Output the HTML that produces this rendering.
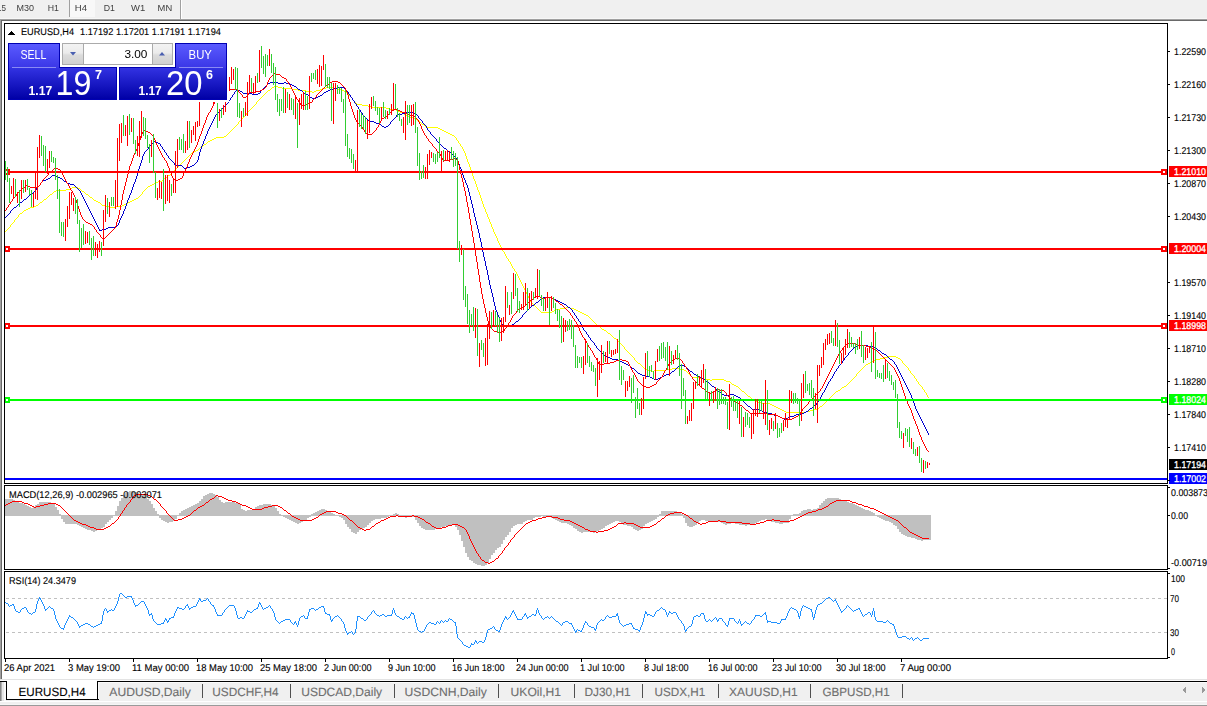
<!DOCTYPE html>
<html><head><meta charset="utf-8"><title>EURUSD,H4</title>
<style>
html,body{margin:0;padding:0;background:#fff;}
body{width:1207px;height:706px;overflow:hidden;position:relative;font-family:"Liberation Sans", sans-serif;}
.abs{position:absolute;}
svg{position:absolute;left:0;top:0;}
svg text{font-family:"Liberation Sans", sans-serif;}
svg.gp text{text-rendering:geometricPrecision;}
.panel{position:absolute;color:#fff;}
</style></head><body>
<!-- toolbar -->
<div class="abs" style="left:0;top:0;width:1207px;height:18px;background:#f0f0f0"></div>
<div class="abs" style="left:0;top:18px;width:1207px;height:1px;background:#f7f7f7"></div>
<div class="abs" style="left:0;top:19px;width:1207px;height:1px;background:#a0a0a0"></div>
<div class="abs" style="left:0;top:20px;width:1207px;height:1px;background:#696969"></div>
<div class="abs" style="left:70px;top:0;width:25px;height:17px;background:#f8f8f8"></div>
<div class="abs" style="left:69px;top:0;width:1px;height:17px;background:#a0a0a0"></div>
<div class="abs" style="left:180px;top:0;width:1px;height:19px;background:#a0a0a0"></div>
<div class="abs" style="left:181px;top:0;width:1px;height:19px;background:#fff"></div>
<!-- left edge -->
<div class="abs" style="left:0;top:19px;width:1px;height:660px;background:#a0a0a0"></div>
<div class="abs" style="left:1px;top:20px;width:1px;height:659px;background:#696969"></div>
<!-- bottom tab strip -->
<div class="abs" style="left:0;top:679px;width:1207px;height:1px;background:#e3e3e3"></div>
<div class="abs" style="left:0;top:680px;width:1207px;height:1px;background:#fafafa"></div>
<div class="abs" style="left:0;top:681px;width:1207px;height:24px;background:#f0f0f0"></div>
<div class="abs" style="left:0;top:681px;width:1207px;height:1px;background:#000"></div>
<div class="abs" style="left:0;top:701px;width:1207px;height:1px;background:#fefefe"></div>
<div class="abs" style="left:0;top:704px;width:1207px;height:1px;background:#f5f5f5"></div>
<div class="abs" style="left:0;top:705px;width:1207px;height:1px;background:#9a9a9a"></div>
<div class="abs" style="left:0;top:682px;width:1px;height:19px;background:#888"></div>
<div class="abs" style="left:1px;top:682px;width:1px;height:19px;background:#b0b0b0"></div>
<div class="abs" style="left:2px;top:682px;width:2px;height:19px;background:#e6e6e6"></div>
<div class="abs" style="left:4px;top:682px;width:2px;height:19px;background:#fafafa"></div>
<!-- active tab -->
<div class="abs" style="left:98px;top:682px;width:1109px;height:1px;background:#fbfbfb"></div>
<div class="abs" style="left:98px;top:682px;width:1px;height:17px;background:#fbfbfb"></div>
<div class="abs" style="left:7px;top:680px;width:90px;height:19px;background:#fff"></div>
<div class="abs" style="left:6px;top:681px;width:1px;height:19px;background:#000"></div>
<div class="abs" style="left:97px;top:681px;width:1px;height:19px;background:#000"></div>
<div class="abs" style="left:6px;top:699px;width:93px;height:1px;background:#000"></div>
<svg class="gp" width="1207" height="706" viewBox="0 0 1207 706" shape-rendering="crispEdges">
<defs><clipPath id="cm"><rect x="5" y="24" width="1162" height="459"/></clipPath></defs>
<g clip-path="url(#cm)">
<path d="M243 117h1v1h-1zM410 117h4v1h-4zM255 104h1v1h-1zM357 104h5v1h-5zM740 389h1v1h-1zM840 389h1v1h-1zM923 389h1v1h-1zM538 309h1v1h-1zM556 309h4v1h-4zM574 309h2v1h-2zM189 155h1v1h-1zM465 155h1v1h-1zM232 129h1v1h-1zM440 129h2v1h-2zM710 380h2v1h-2zM724 380h2v1h-2zM851 380h1v1h-1zM916 380h1v1h-1zM758 402h4v1h-4zM825 402h1v1h-1zM648 370h4v1h-4zM654 370h12v1h-12zM684 370h2v1h-2zM860 370h1v1h-1zM909 370h1v1h-1zM786 412h20v1h-20zM11 224h1v1h-1zM491 224h1v1h-1zM252 107h1v1h-1zM372 107h14v1h-14zM186 158h1v1h-1zM466 158h1v1h-1zM643 367h1v1h-1zM863 367h1v1h-1zM907 367h1v1h-1zM162 180h1v1h-1zM474 180h1v1h-1zM272 87h2v1h-2zM278 87h4v1h-4zM326 87h8v1h-8zM704 379h6v1h-6zM712 379h12v1h-12zM852 379h1v1h-1zM916 379h1v1h-1zM66 189h4v1h-4zM80 189h1v1h-1zM145 189h1v1h-1zM477 189h1v1h-1zM53 192h1v1h-1zM84 192h1v1h-1zM142 192h1v1h-1zM479 192h1v1h-1zM251 108h1v1h-1zM386 108h4v1h-4zM266 92h1v1h-1zM312 92h2v1h-2zM346 92h1v1h-1zM185 159h1v1h-1zM467 159h1v1h-1zM540 311h1v1h-1zM552 311h2v1h-2zM578 311h2v1h-2zM234 127h1v1h-1zM426 127h12v1h-12zM228 133h1v1h-1zM448 133h2v1h-2zM48 196h1v1h-1zM89 196h1v1h-1zM139 196h1v1h-1zM480 196h1v1h-1zM16 218h1v1h-1zM488 218h1v1h-1zM177 167h1v1h-1zM470 167h1v1h-1zM271 88h1v1h-1zM282 88h10v1h-10zM322 88h4v1h-4zM334 88h4v1h-4zM634 359h1v1h-1zM876 359h4v1h-4zM900 359h1v1h-1zM36 205h2v1h-2zM102 205h4v1h-4zM122 205h2v1h-2zM483 205h1v1h-1zM5 231h1v1h-1zM493 231h1v1h-1zM270 89h1v1h-1zM292 89h6v1h-6zM320 89h2v1h-2zM338 89h4v1h-4zM754 400h2v1h-2zM827 400h1v1h-1zM158 181h4v1h-4zM475 181h1v1h-1zM530 300h1v1h-1zM646 369h2v1h-2zM666 369h6v1h-6zM680 369h4v1h-4zM861 369h1v1h-1zM908 369h1v1h-1zM175 169h1v1h-1zM470 169h1v1h-1zM741 390h1v1h-1zM838 390h2v1h-2zM924 390h1v1h-1zM689 374h1v1h-1zM856 374h1v1h-1zM912 374h1v1h-1zM30 207h4v1h-4zM110 207h6v1h-6zM484 207h1v1h-1zM527 294h1v1h-1zM72 187h6v1h-6zM147 187h1v1h-1zM477 187h1v1h-1zM736 386h2v1h-2zM844 386h2v1h-2zM921 386h1v1h-1zM212 139h2v1h-2zM456 139h1v1h-1zM756 401h2v1h-2zM826 401h1v1h-1zM50 194h2v1h-2zM86 194h2v1h-2zM141 194h1v1h-1zM479 194h1v1h-1zM784 411h2v1h-2zM806 411h4v1h-4zM204 144h2v1h-2zM460 144h1v1h-1zM690 375h1v1h-1zM856 375h1v1h-1zM913 375h1v1h-1zM746 394h1v1h-1zM833 394h1v1h-1zM926 394h1v1h-1zM738 387h1v1h-1zM842 387h2v1h-2zM922 387h1v1h-1zM494 233h1v1h-1zM606 331h1v1h-1zM523 287h1v1h-1zM54 191h2v1h-2zM82 191h2v1h-2zM143 191h1v1h-1zM478 191h1v1h-1zM13 222h1v1h-1zM490 222h1v1h-1zM624 348h1v1h-1zM747 395h1v1h-1zM832 395h1v1h-1zM927 395h1v1h-1zM208 141h2v1h-2zM458 141h1v1h-1zM192 152h2v1h-2zM464 152h1v1h-1zM274 86h4v1h-4zM732 384h2v1h-2zM847 384h1v1h-1zM919 384h1v1h-1zM263 95h1v1h-1zM349 95h1v1h-1zM238 123h1v1h-1zM421 123h1v1h-1zM240 120h1v1h-1zM417 120h1v1h-1zM601 328h1v1h-1zM752 399h2v1h-2zM828 399h1v1h-1zM200 147h2v1h-2zM462 147h1v1h-1zM56 190h10v1h-10zM81 190h1v1h-1zM144 190h1v1h-1zM478 190h1v1h-1zM541 312h11v1h-11zM580 312h2v1h-2zM776 407h2v1h-2zM819 407h1v1h-1zM632 356h1v1h-1zM888 356h8v1h-8zM250 109h1v1h-1zM390 109h6v1h-6zM8 228h1v1h-1zM492 228h1v1h-1zM237 124h1v1h-1zM422 124h2v1h-2zM590 318h1v1h-1zM635 360h1v1h-1zM874 360h2v1h-2zM901 360h1v1h-1zM602 329h2v1h-2zM164 178h2v1h-2zM473 178h1v1h-1zM644 368h2v1h-2zM672 368h8v1h-8zM862 368h1v1h-1zM908 368h1v1h-1zM268 90h2v1h-2zM298 90h8v1h-8zM316 90h4v1h-4zM342 90h2v1h-2zM591 319h1v1h-1zM187 157h1v1h-1zM466 157h1v1h-1zM258 100h1v1h-1zM353 100h1v1h-1zM235 126h1v1h-1zM425 126h1v1h-1zM34 206h2v1h-2zM106 206h4v1h-4zM116 206h6v1h-6zM483 206h1v1h-1zM40 202h2v1h-2zM98 202h2v1h-2zM128 202h2v1h-2zM482 202h1v1h-1zM687 372h1v1h-1zM858 372h1v1h-1zM910 372h1v1h-1zM70 188h2v1h-2zM78 188h2v1h-2zM146 188h1v1h-1zM477 188h1v1h-1zM604 330h2v1h-2zM497 239h1v1h-1zM18 216h1v1h-1zM487 216h1v1h-1zM688 373h1v1h-1zM857 373h1v1h-1zM911 373h1v1h-1zM616 339h1v1h-1zM257 101h1v1h-1zM354 101h1v1h-1zM526 293h1v1h-1zM39 203h1v1h-1zM100 203h1v1h-1zM126 203h2v1h-2zM482 203h1v1h-1zM267 91h1v1h-1zM306 91h6v1h-6zM314 91h2v1h-2zM344 91h2v1h-2zM154 183h2v1h-2zM475 183h1v1h-1zM49 195h1v1h-1zM88 195h1v1h-1zM140 195h1v1h-1zM480 195h1v1h-1zM744 392h1v1h-1zM835 392h1v1h-1zM925 392h1v1h-1zM638 363h2v1h-2zM868 363h2v1h-2zM903 363h1v1h-1zM617 340h1v1h-1zM26 209h2v1h-2zM485 209h1v1h-1zM762 403h8v1h-8zM824 403h1v1h-1zM19 214h1v1h-1zM487 214h1v1h-1zM246 113h1v1h-1zM402 113h2v1h-2zM168 175h2v1h-2zM472 175h1v1h-1zM176 168h1v1h-1zM470 168h1v1h-1zM598 326h2v1h-2zM23 211h1v1h-1zM485 211h1v1h-1zM748 396h2v1h-2zM831 396h1v1h-1zM927 396h1v1h-1zM692 377h8v1h-8zM854 377h1v1h-1zM914 377h1v1h-1zM172 172h1v1h-1zM471 172h1v1h-1zM623 346h1v1h-1zM42 201h1v1h-1zM96 201h2v1h-2zM130 201h2v1h-2zM482 201h1v1h-1zM152 184h2v1h-2zM476 184h1v1h-1zM494 232h1v1h-1zM633 357h1v1h-1zM884 357h4v1h-4zM896 357h2v1h-2zM745 393h1v1h-1zM834 393h1v1h-1zM926 393h1v1h-1zM523 286h1v1h-1zM624 347h1v1h-1zM770 404h2v1h-2zM823 404h1v1h-1zM254 105h1v1h-1zM362 105h6v1h-6zM245 115h1v1h-1zM405 115h3v1h-3zM248 111h1v1h-1zM398 111h2v1h-2zM631 355h1v1h-1zM637 362h1v1h-1zM870 362h2v1h-2zM902 362h1v1h-1zM640 364h1v1h-1zM866 364h2v1h-2zM904 364h1v1h-1zM260 98h1v1h-1zM352 98h1v1h-1zM582 313h2v1h-2zM780 409h2v1h-2zM814 409h4v1h-4zM184 160h1v1h-1zM467 160h1v1h-1zM214 138h2v1h-2zM456 138h1v1h-1zM525 291h1v1h-1zM150 185h2v1h-2zM476 185h1v1h-1zM181 163h1v1h-1zM468 163h1v1h-1zM533 304h1v1h-1zM244 116h1v1h-1zM408 116h2v1h-2zM497 238h1v1h-1zM597 325h1v1h-1zM726 381h4v1h-4zM850 381h1v1h-1zM917 381h1v1h-1zM526 292h1v1h-1zM534 305h1v1h-1zM46 198h1v1h-1zM92 198h1v1h-1zM136 198h2v1h-2zM481 198h1v1h-1zM586 315h2v1h-2zM178 166h1v1h-1zM469 166h1v1h-1zM38 204h1v1h-1zM101 204h1v1h-1zM124 204h2v1h-2zM483 204h1v1h-1zM634 358h1v1h-1zM880 358h4v1h-4zM898 358h2v1h-2zM156 182h2v1h-2zM475 182h1v1h-1zM537 308h1v1h-1zM560 308h6v1h-6zM570 308h4v1h-4zM519 279h1v1h-1zM216 137h8v1h-8zM455 137h1v1h-1zM47 197h1v1h-1zM90 197h2v1h-2zM138 197h1v1h-1zM480 197h1v1h-1zM612 336h1v1h-1zM750 397h1v1h-1zM830 397h1v1h-1zM928 397h1v1h-1zM238 122h1v1h-1zM420 122h1v1h-1zM194 151h2v1h-2zM464 151h1v1h-1zM782 410h2v1h-2zM810 410h4v1h-4zM199 148h1v1h-1zM462 148h1v1h-1zM253 106h1v1h-1zM368 106h4v1h-4zM52 193h1v1h-1zM85 193h1v1h-1zM142 193h1v1h-1zM479 193h1v1h-1zM265 93h1v1h-1zM347 93h1v1h-1zM191 153h1v1h-1zM465 153h1v1h-1zM700 378h4v1h-4zM853 378h1v1h-1zM915 378h1v1h-1zM224 136h2v1h-2zM454 136h1v1h-1zM210 140h2v1h-2zM457 140h1v1h-1zM203 145h1v1h-1zM460 145h1v1h-1zM10 226h1v1h-1zM491 226h1v1h-1zM584 314h2v1h-2zM522 285h1v1h-1zM731 383h1v1h-1zM848 383h1v1h-1zM918 383h1v1h-1zM525 290h1v1h-1zM230 131h1v1h-1zM444 131h2v1h-2zM608 333h2v1h-2zM227 134h1v1h-1zM450 134h2v1h-2zM539 310h1v1h-1zM554 310h2v1h-2zM576 310h2v1h-2zM231 130h1v1h-1zM442 130h2v1h-2zM179 165h1v1h-1zM469 165h1v1h-1zM14 220h1v1h-1zM489 220h1v1h-1zM7 229h1v1h-1zM493 229h1v1h-1zM508 260h1v1h-1zM511 265h1v1h-1zM24 210h2v1h-2zM485 210h1v1h-1zM730 382h1v1h-1zM849 382h1v1h-1zM918 382h1v1h-1zM229 132h1v1h-1zM446 132h2v1h-2zM233 128h1v1h-1zM438 128h2v1h-2zM190 154h1v1h-1zM465 154h1v1h-1zM496 236h1v1h-1zM20 213h2v1h-2zM486 213h1v1h-1zM207 142h1v1h-1zM458 142h1v1h-1zM607 332h1v1h-1zM174 170h1v1h-1zM471 170h1v1h-1zM18 215h1v1h-1zM487 215h1v1h-1zM242 118h1v1h-1zM414 118h2v1h-2zM256 103h1v1h-1zM356 103h1v1h-1zM636 361h1v1h-1zM872 361h2v1h-2zM902 361h1v1h-1zM691 376h1v1h-1zM855 376h1v1h-1zM914 376h1v1h-1zM619 342h1v1h-1zM521 283h1v1h-1zM642 366h1v1h-1zM864 366h1v1h-1zM906 366h1v1h-1zM778 408h2v1h-2zM818 408h1v1h-1zM10 225h1v1h-1zM491 225h1v1h-1zM6 230h1v1h-1zM493 230h1v1h-1zM625 349h1v1h-1zM148 186h2v1h-2zM476 186h1v1h-1zM522 284h1v1h-1zM772 405h2v1h-2zM822 405h1v1h-1zM626 350h1v1h-1zM506 257h1v1h-1zM507 258h1v1h-1zM264 94h1v1h-1zM348 94h1v1h-1zM15 219h1v1h-1zM489 219h1v1h-1zM500 246h1v1h-1zM592 320h1v1h-1zM652 371h2v1h-2zM686 371h1v1h-1zM859 371h1v1h-1zM910 371h1v1h-1zM163 179h1v1h-1zM474 179h1v1h-1zM256 102h1v1h-1zM355 102h1v1h-1zM22 212h1v1h-1zM486 212h1v1h-1zM495 234h1v1h-1zM524 288h1v1h-1zM43 200h1v1h-1zM94 200h2v1h-2zM132 200h2v1h-2zM481 200h1v1h-1zM618 341h1v1h-1zM520 281h1v1h-1zM536 307h1v1h-1zM566 307h4v1h-4zM44 199h2v1h-2zM93 199h1v1h-1zM134 199h2v1h-2zM481 199h1v1h-1zM521 282h1v1h-1zM751 398h1v1h-1zM829 398h1v1h-1zM502 250h1v1h-1zM514 270h1v1h-1zM183 161h1v1h-1zM467 161h1v1h-1zM503 251h1v1h-1zM506 256h1v1h-1zM17 217h1v1h-1zM488 217h1v1h-1zM499 244h1v1h-1zM734 385h2v1h-2zM846 385h1v1h-1zM920 385h1v1h-1zM167 176h1v1h-1zM473 176h1v1h-1zM171 173h1v1h-1zM472 173h1v1h-1zM535 306h1v1h-1zM517 275h1v1h-1zM742 391h2v1h-2zM836 391h2v1h-2zM924 391h1v1h-1zM520 280h1v1h-1zM166 177h1v1h-1zM473 177h1v1h-1zM510 263h1v1h-1zM613 337h1v1h-1zM513 268h1v1h-1zM641 365h1v1h-1zM865 365h1v1h-1zM905 365h1v1h-1zM188 156h1v1h-1zM466 156h1v1h-1zM502 249h1v1h-1zM614 338h2v1h-2zM774 406h2v1h-2zM820 406h2v1h-2zM239 121h1v1h-1zM418 121h2v1h-2zM247 112h1v1h-1zM400 112h2v1h-2zM9 227h1v1h-1zM492 227h1v1h-1zM512 267h1v1h-1zM505 255h1v1h-1zM249 110h1v1h-1zM396 110h2v1h-2zM516 273h1v1h-1zM28 208h2v1h-2zM484 208h1v1h-1zM628 352h1v1h-1zM509 261h1v1h-1zM498 242h1v1h-1zM226 135h1v1h-1zM452 135h2v1h-2zM196 150h2v1h-2zM463 150h1v1h-1zM12 223h1v1h-1zM490 223h1v1h-1zM594 322h1v1h-1zM262 96h1v1h-1zM350 96h1v1h-1zM206 143h1v1h-1zM459 143h1v1h-1zM620 343h1v1h-1zM519 278h1v1h-1zM501 248h1v1h-1zM504 253h1v1h-1zM512 266h1v1h-1zM627 351h1v1h-1zM173 171h1v1h-1zM471 171h1v1h-1zM505 254h1v1h-1zM516 272h1v1h-1zM530 301h1v1h-1zM498 241h1v1h-1zM527 295h1v1h-1zM259 99h1v1h-1zM352 99h1v1h-1zM518 277h1v1h-1zM515 271h1v1h-1zM180 164h1v1h-1zM469 164h1v1h-1zM508 259h1v1h-1zM511 264h1v1h-1zM236 125h1v1h-1zM424 125h1v1h-1zM501 247h1v1h-1zM593 321h1v1h-1zM504 252h1v1h-1zM497 240h1v1h-1zM202 146h1v1h-1zM461 146h1v1h-1zM739 388h1v1h-1zM841 388h1v1h-1zM922 388h1v1h-1zM246 114h1v1h-1zM404 114h1v1h-1zM14 221h1v1h-1zM489 221h1v1h-1zM198 149h1v1h-1zM463 149h1v1h-1zM518 276h1v1h-1zM500 245h1v1h-1zM170 174h1v1h-1zM472 174h1v1h-1zM529 299h1v1h-1zM600 327h1v1h-1zM182 162h1v1h-1zM468 162h1v1h-1zM514 269h1v1h-1zM241 119h1v1h-1zM416 119h1v1h-1zM261 97h1v1h-1zM351 97h1v1h-1zM589 317h1v1h-1zM629 353h1v1h-1zM499 243h1v1h-1zM630 354h1v1h-1zM528 297h1v1h-1zM529 298h1v1h-1zM532 303h1v1h-1zM596 324h1v1h-1zM588 316h1v1h-1zM517 274h1v1h-1zM622 345h1v1h-1zM510 262h1v1h-1zM611 335h1v1h-1zM595 323h1v1h-1zM496 237h1v1h-1zM528 296h1v1h-1zM621 344h1v1h-1zM610 334h1v1h-1zM531 302h1v1h-1zM495 235h1v1h-1zM524 289h1v1h-1z" fill="#ffff00"/>
<path d="M267 84h1v1h-1zM290 84h2v1h-2zM642 375h4v1h-4zM664 375h2v1h-2zM696 375h2v1h-2zM833 375h1v1h-1zM901 375h1v1h-1zM706 381h2v1h-2zM829 381h1v1h-1zM904 381h1v1h-1zM232 95h1v1h-1zM308 95h1v1h-1zM320 95h2v1h-2zM350 95h1v1h-1zM213 120h1v1h-1zM368 120h1v1h-1zM392 120h1v1h-1zM421 120h1v1h-1zM140 164h1v1h-1zM174 164h1v1h-1zM194 164h1v1h-1zM459 164h1v1h-1zM140 165h1v1h-1zM175 165h7v1h-7zM192 165h2v1h-2zM459 165h1v1h-1zM36 189h1v1h-1zM78 189h1v1h-1zM132 189h1v1h-1zM468 189h1v1h-1zM595 345h1v1h-1zM858 345h10v1h-10zM715 388h1v1h-1zM825 388h1v1h-1zM907 388h1v1h-1zM612 359h6v1h-6zM844 359h1v1h-1zM890 359h2v1h-2zM29 195h1v1h-1zM82 195h1v1h-1zM129 195h1v1h-1zM469 195h1v1h-1zM752 409h8v1h-8zM809 409h1v1h-1zM916 409h1v1h-1zM16 206h1v1h-1zM87 206h1v1h-1zM125 206h1v1h-1zM472 206h1v1h-1zM20 202h2v1h-2zM85 202h1v1h-1zM127 202h1v1h-1zM471 202h1v1h-1zM748 406h2v1h-2zM813 406h1v1h-1zM915 406h1v1h-1zM736 396h2v1h-2zM821 396h1v1h-1zM911 396h1v1h-1zM40 183h1v1h-1zM67 183h3v1h-3zM134 183h1v1h-1zM466 183h1v1h-1zM204 139h1v1h-1zM436 139h1v1h-1zM218 112h1v1h-1zM361 112h1v1h-1zM406 112h8v1h-8zM493 301h1v1h-1zM538 301h1v1h-1zM558 301h2v1h-2zM140 163h1v1h-1zM174 163h1v1h-1zM195 163h1v1h-1zM458 163h1v1h-1zM5 217h1v1h-1zM93 217h1v1h-1zM121 217h1v1h-1zM475 217h1v1h-1zM721 393h1v1h-1zM822 393h1v1h-1zM910 393h1v1h-1zM233 94h1v1h-1zM252 94h6v1h-6zM306 94h2v1h-2zM322 94h1v1h-1zM349 94h1v1h-1zM496 311h1v1h-1zM526 311h1v1h-1zM572 311h1v1h-1zM928 434h1v1h-1zM35 190h1v1h-1zM79 190h1v1h-1zM131 190h1v1h-1zM468 190h1v1h-1zM479 235h1v1h-1zM142 158h1v1h-1zM169 158h1v1h-1zM198 158h1v1h-1zM456 158h1v1h-1zM582 327h1v1h-1zM41 182h1v1h-1zM66 182h1v1h-1zM134 182h1v1h-1zM465 182h1v1h-1zM760 410h2v1h-2zM808 410h1v1h-1zM916 410h1v1h-1zM593 342h1v1h-1zM596 347h1v1h-1zM854 347h2v1h-2zM874 347h2v1h-2zM214 117h1v1h-1zM365 117h1v1h-1zM395 117h1v1h-1zM418 117h1v1h-1zM597 348h1v1h-1zM853 348h1v1h-1zM876 348h1v1h-1zM724 395h6v1h-6zM734 395h2v1h-2zM821 395h1v1h-1zM911 395h1v1h-1zM608 357h2v1h-2zM845 357h1v1h-1zM888 357h1v1h-1zM500 320h1v1h-1zM518 320h1v1h-1zM578 320h1v1h-1zM212 121h1v1h-1zM369 121h5v1h-5zM391 121h1v1h-1zM422 121h1v1h-1zM219 111h1v1h-1zM360 111h1v1h-1zM747 405h1v1h-1zM814 405h2v1h-2zM914 405h1v1h-1zM95 222h1v1h-1zM119 222h1v1h-1zM476 222h1v1h-1zM268 83h2v1h-2zM278 83h6v1h-6zM286 83h4v1h-4zM772 414h2v1h-2zM796 414h6v1h-6zM918 414h1v1h-1zM235 91h1v1h-1zM240 91h2v1h-2zM260 91h1v1h-1zM302 91h1v1h-1zM326 91h2v1h-2zM347 91h1v1h-1zM485 264h1v1h-1zM6 216h1v1h-1zM92 216h1v1h-1zM121 216h1v1h-1zM474 216h1v1h-1zM143 154h1v1h-1zM166 154h1v1h-1zM199 154h1v1h-1zM452 154h1v1h-1zM138 171h1v1h-1zM461 171h1v1h-1zM154 141h2v1h-2zM203 141h1v1h-1zM437 141h1v1h-1zM215 115h1v1h-1zM363 115h1v1h-1zM396 115h1v1h-1zM417 115h1v1h-1zM746 404h1v1h-1zM816 404h1v1h-1zM914 404h1v1h-1zM32 193h1v1h-1zM81 193h1v1h-1zM130 193h1v1h-1zM469 193h1v1h-1zM36 188h1v1h-1zM77 188h1v1h-1zM132 188h1v1h-1zM468 188h1v1h-1zM48 178h2v1h-2zM60 178h2v1h-2zM136 178h1v1h-1zM464 178h1v1h-1zM34 191h1v1h-1zM80 191h1v1h-1zM131 191h1v1h-1zM468 191h1v1h-1zM137 173h1v1h-1zM462 173h1v1h-1zM46 179h2v1h-2zM62 179h1v1h-1zM135 179h1v1h-1zM464 179h1v1h-1zM628 365h2v1h-2zM680 365h1v1h-1zM682 365h2v1h-2zM839 365h1v1h-1zM896 365h1v1h-1zM52 175h4v1h-4zM137 175h1v1h-1zM463 175h1v1h-1zM637 372h1v1h-1zM671 372h1v1h-1zM692 372h1v1h-1zM834 372h1v1h-1zM899 372h1v1h-1zM147 149h1v1h-1zM163 149h1v1h-1zM200 149h1v1h-1zM446 149h1v1h-1zM640 374h2v1h-2zM666 374h4v1h-4zM694 374h2v1h-2zM833 374h1v1h-1zM900 374h1v1h-1zM153 142h1v1h-1zM156 142h2v1h-2zM203 142h1v1h-1zM438 142h1v1h-1zM145 151h1v1h-1zM164 151h1v1h-1zM200 151h1v1h-1zM448 151h2v1h-2zM146 150h1v1h-1zM164 150h1v1h-1zM200 150h1v1h-1zM447 150h1v1h-1zM494 302h1v1h-1zM536 302h2v1h-2zM560 302h2v1h-2zM212 122h1v1h-1zM374 122h2v1h-2zM390 122h1v1h-1zM422 122h1v1h-1zM152 143h1v1h-1zM158 143h2v1h-2zM203 143h1v1h-1zM439 143h1v1h-1zM222 108h1v1h-1zM358 108h1v1h-1zM144 152h1v1h-1zM165 152h1v1h-1zM199 152h1v1h-1zM450 152h1v1h-1zM600 351h1v1h-1zM850 351h1v1h-1zM880 351h1v1h-1zM774 415h4v1h-4zM794 415h2v1h-2zM919 415h1v1h-1zM234 93h1v1h-1zM243 93h9v1h-9zM258 93h2v1h-2zM304 93h2v1h-2zM323 93h1v1h-1zM348 93h1v1h-1zM142 157h1v1h-1zM168 157h1v1h-1zM198 157h1v1h-1zM455 157h1v1h-1zM93 218h1v1h-1zM120 218h1v1h-1zM475 218h1v1h-1zM141 161h1v1h-1zM172 161h1v1h-1zM197 161h1v1h-1zM457 161h1v1h-1zM782 418h2v1h-2zM786 418h2v1h-2zM920 418h1v1h-1zM601 352h1v1h-1zM849 352h1v1h-1zM881 352h1v1h-1zM493 297h1v1h-1zM543 297h9v1h-9zM784 419h2v1h-2zM921 419h1v1h-1zM488 277h1v1h-1zM503 325h1v1h-1zM510 325h2v1h-2zM581 325h1v1h-1zM584 330h1v1h-1zM490 286h1v1h-1zM24 199h2v1h-2zM84 199h1v1h-1zM128 199h1v1h-1zM470 199h1v1h-1zM585 331h1v1h-1zM263 88h1v1h-1zM297 88h1v1h-1zM334 88h4v1h-4zM344 88h1v1h-1zM712 386h2v1h-2zM826 386h1v1h-1zM906 386h1v1h-1zM236 90h1v1h-1zM238 90h2v1h-2zM261 90h1v1h-1zM300 90h2v1h-2zM328 90h2v1h-2zM346 90h1v1h-1zM718 391h2v1h-2zM824 391h1v1h-1zM909 391h1v1h-1zM493 300h1v1h-1zM539 300h1v1h-1zM556 300h2v1h-2zM214 118h1v1h-1zM366 118h1v1h-1zM394 118h1v1h-1zM419 118h1v1h-1zM631 367h1v1h-1zM677 367h1v1h-1zM686 367h1v1h-1zM838 367h1v1h-1zM897 367h1v1h-1zM213 119h1v1h-1zM367 119h1v1h-1zM393 119h1v1h-1zM420 119h1v1h-1zM599 350h1v1h-1zM851 350h1v1h-1zM878 350h2v1h-2zM216 114h1v1h-1zM362 114h1v1h-1zM397 114h5v1h-5zM416 114h1v1h-1zM99 229h1v1h-1zM102 229h4v1h-4zM478 229h1v1h-1zM11 210h1v1h-1zM89 210h1v1h-1zM124 210h1v1h-1zM473 210h1v1h-1zM148 148h1v1h-1zM162 148h1v1h-1zM201 148h1v1h-1zM444 148h2v1h-2zM744 402h1v1h-1zM817 402h1v1h-1zM913 402h1v1h-1zM652 378h2v1h-2zM658 378h2v1h-2zM702 378h2v1h-2zM831 378h1v1h-1zM902 378h1v1h-1zM923 424h1v1h-1zM37 187h1v1h-1zM76 187h1v1h-1zM132 187h1v1h-1zM467 187h1v1h-1zM40 184h1v1h-1zM70 184h4v1h-4zM133 184h1v1h-1zM466 184h1v1h-1zM39 185h1v1h-1zM74 185h1v1h-1zM133 185h1v1h-1zM467 185h1v1h-1zM231 97h1v1h-1zM310 97h2v1h-2zM316 97h2v1h-2zM351 97h1v1h-1zM636 371h1v1h-1zM672 371h2v1h-2zM690 371h2v1h-2zM835 371h1v1h-1zM899 371h1v1h-1zM480 240h1v1h-1zM98 227h1v1h-1zM108 227h8v1h-8zM477 227h1v1h-1zM22 201h1v1h-1zM85 201h1v1h-1zM127 201h1v1h-1zM471 201h1v1h-1zM42 181h1v1h-1zM64 181h2v1h-2zM135 181h1v1h-1zM465 181h1v1h-1zM234 92h1v1h-1zM242 92h1v1h-1zM260 92h1v1h-1zM303 92h1v1h-1zM324 92h2v1h-2zM348 92h1v1h-1zM151 144h1v1h-1zM160 144h1v1h-1zM202 144h1v1h-1zM440 144h1v1h-1zM43 180h3v1h-3zM63 180h1v1h-1zM135 180h1v1h-1zM465 180h1v1h-1zM150 145h1v1h-1zM160 145h1v1h-1zM202 145h1v1h-1zM441 145h1v1h-1zM650 377h2v1h-2zM660 377h2v1h-2zM700 377h2v1h-2zM832 377h1v1h-1zM902 377h1v1h-1zM12 209h1v1h-1zM89 209h1v1h-1zM124 209h1v1h-1zM473 209h1v1h-1zM96 224h1v1h-1zM118 224h1v1h-1zM476 224h1v1h-1zM495 307h1v1h-1zM530 307h1v1h-1zM568 307h2v1h-2zM708 382h1v1h-1zM828 382h1v1h-1zM904 382h1v1h-1zM479 234h1v1h-1zM496 310h1v1h-1zM527 310h1v1h-1zM572 310h1v1h-1zM215 116h1v1h-1zM364 116h1v1h-1zM396 116h1v1h-1zM418 116h1v1h-1zM9 213h1v1h-1zM91 213h1v1h-1zM123 213h1v1h-1zM474 213h1v1h-1zM764 412h4v1h-4zM804 412h2v1h-2zM917 412h1v1h-1zM264 87h1v1h-1zM296 87h1v1h-1zM338 87h6v1h-6zM148 147h1v1h-1zM162 147h1v1h-1zM201 147h1v1h-1zM443 147h1v1h-1zM499 319h1v1h-1zM519 319h1v1h-1zM578 319h1v1h-1zM485 263h1v1h-1zM494 304h1v1h-1zM534 304h1v1h-1zM564 304h2v1h-2zM221 109h1v1h-1zM359 109h1v1h-1zM138 170h1v1h-1zM461 170h1v1h-1zM921 420h1v1h-1zM7 215h1v1h-1zM92 215h1v1h-1zM122 215h1v1h-1zM474 215h1v1h-1zM603 354h1v1h-1zM848 354h1v1h-1zM884 354h2v1h-2zM745 403h1v1h-1zM816 403h1v1h-1zM914 403h1v1h-1zM499 318h1v1h-1zM520 318h1v1h-1zM577 318h1v1h-1zM922 421h1v1h-1zM610 358h2v1h-2zM844 358h1v1h-1zM889 358h1v1h-1zM497 312h1v1h-1zM525 312h1v1h-1zM573 312h1v1h-1zM33 192h1v1h-1zM80 192h1v1h-1zM131 192h1v1h-1zM469 192h1v1h-1zM211 123h1v1h-1zM376 123h4v1h-4zM390 123h1v1h-1zM423 123h1v1h-1zM762 411h2v1h-2zM806 411h2v1h-2zM917 411h1v1h-1zM479 237h1v1h-1zM618 360h2v1h-2zM843 360h1v1h-1zM892 360h1v1h-1zM13 208h1v1h-1zM88 208h1v1h-1zM125 208h1v1h-1zM473 208h1v1h-1zM750 407h1v1h-1zM812 407h1v1h-1zM915 407h1v1h-1zM228 102h1v1h-1zM354 102h1v1h-1zM482 247h1v1h-1zM751 408h1v1h-1zM810 408h2v1h-2zM915 408h1v1h-1zM27 197h1v1h-1zM83 197h1v1h-1zM129 197h1v1h-1zM470 197h1v1h-1zM740 398h1v1h-1zM820 398h1v1h-1zM912 398h1v1h-1zM722 394h2v1h-2zM730 394h4v1h-4zM822 394h1v1h-1zM910 394h1v1h-1zM741 399h1v1h-1zM819 399h1v1h-1zM912 399h1v1h-1zM494 305h1v1h-1zM532 305h2v1h-2zM566 305h1v1h-1zM142 156h1v1h-1zM168 156h1v1h-1zM198 156h1v1h-1zM454 156h1v1h-1zM488 276h1v1h-1zM149 146h1v1h-1zM161 146h1v1h-1zM201 146h1v1h-1zM442 146h1v1h-1zM97 225h1v1h-1zM117 225h1v1h-1zM477 225h1v1h-1zM632 368h2v1h-2zM676 368h1v1h-1zM687 368h1v1h-1zM837 368h1v1h-1zM897 368h1v1h-1zM630 366h1v1h-1zM678 366h2v1h-2zM684 366h2v1h-2zM838 366h1v1h-1zM896 366h1v1h-1zM211 124h1v1h-1zM380 124h1v1h-1zM389 124h1v1h-1zM424 124h1v1h-1zM23 200h1v1h-1zM84 200h1v1h-1zM127 200h1v1h-1zM471 200h1v1h-1zM493 299h1v1h-1zM540 299h2v1h-2zM554 299h2v1h-2zM230 99h1v1h-1zM352 99h1v1h-1zM638 373h2v1h-2zM670 373h1v1h-1zM693 373h1v1h-1zM834 373h1v1h-1zM900 373h1v1h-1zM484 260h1v1h-1zM207 131h1v1h-1zM429 131h1v1h-1zM139 168h1v1h-1zM184 168h2v1h-2zM460 168h1v1h-1zM705 380h1v1h-1zM830 380h1v1h-1zM903 380h1v1h-1zM270 82h8v1h-8zM284 82h2v1h-2zM780 417h2v1h-2zM788 417h2v1h-2zM920 417h1v1h-1zM498 315h1v1h-1zM522 315h1v1h-1zM575 315h1v1h-1zM480 239h1v1h-1zM51 176h1v1h-1zM56 176h2v1h-2zM136 176h1v1h-1zM463 176h1v1h-1zM490 288h1v1h-1zM18 204h1v1h-1zM86 204h1v1h-1zM126 204h1v1h-1zM472 204h1v1h-1zM606 356h2v1h-2zM846 356h1v1h-1zM887 356h1v1h-1zM491 289h1v1h-1zM596 346h1v1h-1zM856 346h2v1h-2zM868 346h6v1h-6zM210 126h1v1h-1zM382 126h2v1h-2zM386 126h2v1h-2zM426 126h1v1h-1zM217 113h1v1h-1zM362 113h1v1h-1zM402 113h4v1h-4zM414 113h2v1h-2zM237 89h1v1h-1zM262 89h1v1h-1zM298 89h2v1h-2zM330 89h4v1h-4zM345 89h1v1h-1zM10 212h1v1h-1zM90 212h1v1h-1zM123 212h1v1h-1zM473 212h1v1h-1zM97 226h1v1h-1zM116 226h1v1h-1zM477 226h1v1h-1zM602 353h1v1h-1zM848 353h1v1h-1zM882 353h2v1h-2zM139 166h1v1h-1zM182 166h1v1h-1zM190 166h2v1h-2zM459 166h1v1h-1zM494 303h1v1h-1zM535 303h1v1h-1zM562 303h2v1h-2zM28 196h1v1h-1zM82 196h1v1h-1zM129 196h1v1h-1zM470 196h1v1h-1zM716 389h1v1h-1zM825 389h1v1h-1zM908 389h1v1h-1zM209 127h1v1h-1zM384 127h2v1h-2zM426 127h1v1h-1zM483 252h1v1h-1zM227 103h1v1h-1zM355 103h1v1h-1zM205 136h1v1h-1zM433 136h1v1h-1zM499 317h1v1h-1zM521 317h1v1h-1zM576 317h1v1h-1zM495 306h1v1h-1zM531 306h1v1h-1zM567 306h1v1h-1zM479 236h1v1h-1zM139 167h1v1h-1zM183 167h1v1h-1zM186 167h4v1h-4zM460 167h1v1h-1zM583 329h1v1h-1zM228 101h1v1h-1zM354 101h1v1h-1zM717 390h1v1h-1zM824 390h1v1h-1zM908 390h1v1h-1zM598 349h1v1h-1zM852 349h1v1h-1zM877 349h1v1h-1zM485 265h1v1h-1zM141 162h1v1h-1zM173 162h1v1h-1zM196 162h1v1h-1zM458 162h1v1h-1zM220 110h1v1h-1zM360 110h1v1h-1zM143 155h1v1h-1zM167 155h1v1h-1zM199 155h1v1h-1zM453 155h1v1h-1zM495 309h1v1h-1zM528 309h1v1h-1zM571 309h1v1h-1zM30 194h2v1h-2zM81 194h1v1h-1zM130 194h1v1h-1zM469 194h1v1h-1zM230 98h1v1h-1zM312 98h4v1h-4zM352 98h1v1h-1zM492 294h1v1h-1zM604 355h2v1h-2zM847 355h1v1h-1zM886 355h1v1h-1zM482 249h1v1h-1zM646 376h4v1h-4zM662 376h2v1h-2zM698 376h2v1h-2zM832 376h1v1h-1zM901 376h1v1h-1zM654 379h4v1h-4zM704 379h1v1h-1zM830 379h1v1h-1zM903 379h1v1h-1zM38 186h1v1h-1zM75 186h1v1h-1zM133 186h1v1h-1zM467 186h1v1h-1zM232 96h1v1h-1zM309 96h1v1h-1zM318 96h2v1h-2zM350 96h1v1h-1zM488 278h1v1h-1zM266 85h1v1h-1zM292 85h2v1h-2zM768 413h4v1h-4zM802 413h2v1h-2zM918 413h1v1h-1zM634 369h1v1h-1zM675 369h1v1h-1zM688 369h1v1h-1zM836 369h1v1h-1zM898 369h1v1h-1zM493 298h1v1h-1zM542 298h1v1h-1zM552 298h2v1h-2zM50 177h1v1h-1zM58 177h2v1h-2zM136 177h1v1h-1zM463 177h1v1h-1zM210 125h1v1h-1zM381 125h1v1h-1zM388 125h1v1h-1zM425 125h1v1h-1zM742 400h1v1h-1zM818 400h1v1h-1zM913 400h1v1h-1zM207 133h1v1h-1zM430 133h1v1h-1zM778 416h2v1h-2zM790 416h4v1h-4zM919 416h1v1h-1zM924 425h1v1h-1zM480 241h1v1h-1zM10 211h1v1h-1zM90 211h1v1h-1zM123 211h1v1h-1zM473 211h1v1h-1zM491 291h1v1h-1zM207 132h1v1h-1zM430 132h1v1h-1zM206 135h1v1h-1zM432 135h1v1h-1zM17 205h1v1h-1zM87 205h1v1h-1zM126 205h1v1h-1zM472 205h1v1h-1zM487 270h1v1h-1zM709 383h1v1h-1zM828 383h1v1h-1zM905 383h1v1h-1zM583 328h1v1h-1zM587 334h1v1h-1zM226 104h1v1h-1zM356 104h1v1h-1zM738 397h2v1h-2zM820 397h1v1h-1zM911 397h1v1h-1zM96 223h1v1h-1zM118 223h1v1h-1zM476 223h1v1h-1zM483 254h1v1h-1zM138 172h1v1h-1zM462 172h1v1h-1zM205 138h1v1h-1zM435 138h1v1h-1zM922 422h1v1h-1zM492 293h1v1h-1zM482 248h1v1h-1zM144 153h1v1h-1zM166 153h1v1h-1zM199 153h1v1h-1zM451 153h1v1h-1zM626 364h2v1h-2zM681 364h1v1h-1zM840 364h1v1h-1zM895 364h1v1h-1zM589 337h1v1h-1zM482 251h1v1h-1zM99 230h3v1h-3zM478 230h1v1h-1zM504 326h6v1h-6zM582 326h1v1h-1zM498 316h1v1h-1zM522 316h1v1h-1zM576 316h1v1h-1zM265 86h1v1h-1zM294 86h2v1h-2zM710 384h1v1h-1zM827 384h1v1h-1zM905 384h1v1h-1zM635 370h1v1h-1zM674 370h1v1h-1zM689 370h1v1h-1zM836 370h1v1h-1zM898 370h1v1h-1zM491 290h1v1h-1zM206 134h1v1h-1zM431 134h1v1h-1zM8 214h1v1h-1zM91 214h1v1h-1zM122 214h1v1h-1zM474 214h1v1h-1zM98 228h1v1h-1zM106 228h2v1h-2zM477 228h1v1h-1zM497 314h1v1h-1zM523 314h1v1h-1zM574 314h1v1h-1zM497 313h1v1h-1zM524 313h1v1h-1zM574 313h1v1h-1zM26 198h1v1h-1zM83 198h1v1h-1zM128 198h1v1h-1zM470 198h1v1h-1zM483 253h1v1h-1zM209 128h1v1h-1zM427 128h1v1h-1zM141 160h1v1h-1zM171 160h1v1h-1zM197 160h1v1h-1zM457 160h1v1h-1zM205 137h1v1h-1zM434 137h1v1h-1zM225 105h1v1h-1zM356 105h1v1h-1zM483 256h1v1h-1zM486 266h1v1h-1zM620 361h2v1h-2zM842 361h1v1h-1zM893 361h1v1h-1zM137 174h1v1h-1zM462 174h1v1h-1zM622 362h2v1h-2zM842 362h1v1h-1zM894 362h1v1h-1zM926 430h1v1h-1zM95 221h1v1h-1zM119 221h1v1h-1zM476 221h1v1h-1zM142 159h1v1h-1zM170 159h1v1h-1zM198 159h1v1h-1zM456 159h1v1h-1zM229 100h1v1h-1zM353 100h1v1h-1zM492 295h1v1h-1zM208 130h1v1h-1zM428 130h1v1h-1zM482 250h1v1h-1zM224 106h1v1h-1zM357 106h1v1h-1zM94 219h1v1h-1zM120 219h1v1h-1zM475 219h1v1h-1zM488 279h1v1h-1zM489 280h1v1h-1zM586 333h1v1h-1zM19 203h1v1h-1zM86 203h1v1h-1zM126 203h1v1h-1zM471 203h1v1h-1zM495 308h1v1h-1zM529 308h1v1h-1zM570 308h1v1h-1zM924 426h1v1h-1zM502 324h1v1h-1zM512 324h2v1h-2zM581 324h1v1h-1zM925 427h1v1h-1zM478 232h1v1h-1zM138 169h1v1h-1zM461 169h1v1h-1zM481 242h1v1h-1zM491 292h1v1h-1zM500 321h1v1h-1zM516 321h2v1h-2zM579 321h1v1h-1zM14 207h2v1h-2zM88 207h1v1h-1zM125 207h1v1h-1zM472 207h1v1h-1zM487 271h1v1h-1zM588 336h1v1h-1zM483 255h1v1h-1zM926 429h1v1h-1zM94 220h1v1h-1zM119 220h1v1h-1zM475 220h1v1h-1zM501 322h1v1h-1zM515 322h1v1h-1zM580 322h1v1h-1zM486 268h1v1h-1zM586 332h1v1h-1zM590 338h1v1h-1zM208 129h1v1h-1zM427 129h1v1h-1zM714 387h1v1h-1zM826 387h1v1h-1zM907 387h1v1h-1zM478 231h1v1h-1zM711 385h1v1h-1zM827 385h1v1h-1zM906 385h1v1h-1zM489 282h1v1h-1zM720 392h1v1h-1zM823 392h1v1h-1zM909 392h1v1h-1zM485 261h1v1h-1zM588 335h1v1h-1zM592 341h1v1h-1zM481 244h1v1h-1zM743 401h1v1h-1zM818 401h1v1h-1zM913 401h1v1h-1zM487 273h1v1h-1zM484 258h1v1h-1zM486 267h1v1h-1zM624 363h2v1h-2zM841 363h1v1h-1zM894 363h1v1h-1zM927 432h1v1h-1zM492 296h1v1h-1zM594 343h1v1h-1zM489 281h1v1h-1zM501 323h1v1h-1zM514 323h1v1h-1zM580 323h1v1h-1zM925 428h1v1h-1zM928 433h1v1h-1zM489 284h1v1h-1zM481 243h1v1h-1zM487 272h1v1h-1zM481 246h1v1h-1zM484 257h1v1h-1zM927 431h1v1h-1zM490 285h1v1h-1zM223 107h1v1h-1zM358 107h1v1h-1zM486 269h1v1h-1zM923 423h1v1h-1zM590 339h1v1h-1zM591 340h1v1h-1zM479 233h1v1h-1zM489 283h1v1h-1zM485 262h1v1h-1zM204 140h1v1h-1zM436 140h1v1h-1zM481 245h1v1h-1zM487 274h1v1h-1zM488 275h1v1h-1zM484 259h1v1h-1zM480 238h1v1h-1zM490 287h1v1h-1zM594 344h1v1h-1z" fill="#0000cd"/>
<path d="M267 84h1v1h-1zM289 84h1v1h-1zM328 84h1v1h-1zM341 84h1v1h-1zM133 155h1v1h-1zM162 155h1v1h-1zM191 155h1v1h-1zM440 155h1v1h-1zM82 218h1v1h-1zM118 218h1v1h-1zM469 218h1v1h-1zM142 132h1v1h-1zM148 132h2v1h-2zM201 132h1v1h-1zM365 132h1v1h-1zM373 132h1v1h-1zM423 132h1v1h-1zM43 179h1v1h-1zM65 179h1v1h-1zM126 179h1v1h-1zM173 179h3v1h-3zM178 179h2v1h-2zM462 179h1v1h-1zM594 356h1v1h-1zM837 356h1v1h-1zM882 356h1v1h-1zM786 419h6v1h-6zM914 419h1v1h-1zM486 316h1v1h-1zM512 316h1v1h-1zM572 316h1v1h-1zM639 382h1v1h-1zM656 382h1v1h-1zM696 382h1v1h-1zM824 382h1v1h-1zM900 382h1v1h-1zM488 321h1v1h-1zM510 321h1v1h-1zM575 321h1v1h-1zM132 160h1v1h-1zM165 160h1v1h-1zM189 160h1v1h-1zM443 160h7v1h-7zM457 160h1v1h-1zM588 345h1v1h-1zM845 345h1v1h-1zM858 345h8v1h-8zM918 431h1v1h-1zM488 322h1v1h-1zM509 322h1v1h-1zM576 322h1v1h-1zM750 413h18v1h-18zM800 413h1v1h-1zM912 413h1v1h-1zM207 116h1v1h-1zM354 116h1v1h-1zM386 116h1v1h-1zM414 116h1v1h-1zM205 122h1v1h-1zM357 122h1v1h-1zM380 122h1v1h-1zM419 122h1v1h-1zM15 196h1v1h-1zM74 196h1v1h-1zM122 196h1v1h-1zM466 196h1v1h-1zM266 85h1v1h-1zM290 85h1v1h-1zM326 85h2v1h-2zM342 85h1v1h-1zM44 178h1v1h-1zM64 178h1v1h-1zM126 178h1v1h-1zM173 178h1v1h-1zM180 178h2v1h-2zM462 178h1v1h-1zM6 208h1v1h-1zM78 208h1v1h-1zM120 208h1v1h-1zM468 208h1v1h-1zM481 290h1v1h-1zM135 152h1v1h-1zM160 152h1v1h-1zM193 152h1v1h-1zM438 152h1v1h-1zM213 105h1v1h-1zM301 105h5v1h-5zM350 105h1v1h-1zM131 163h1v1h-1zM167 163h1v1h-1zM188 163h1v1h-1zM458 163h1v1h-1zM42 180h1v1h-1zM65 180h1v1h-1zM126 180h1v1h-1zM176 180h2v1h-2zM462 180h1v1h-1zM599 364h5v1h-5zM629 364h1v1h-1zM668 364h1v1h-1zM684 364h1v1h-1zM833 364h1v1h-1zM890 364h1v1h-1zM210 110h1v1h-1zM352 110h1v1h-1zM392 110h2v1h-2zM398 110h2v1h-2zM81 215h1v1h-1zM118 215h1v1h-1zM469 215h1v1h-1zM598 363h1v1h-1zM604 363h6v1h-6zM628 363h1v1h-1zM669 363h1v1h-1zM683 363h1v1h-1zM834 363h1v1h-1zM889 363h1v1h-1zM8 205h1v1h-1zM77 205h1v1h-1zM120 205h1v1h-1zM467 205h1v1h-1zM487 319h1v1h-1zM511 319h1v1h-1zM574 319h1v1h-1zM478 270h1v1h-1zM206 118h1v1h-1zM355 118h1v1h-1zM382 118h2v1h-2zM416 118h1v1h-1zM631 369h1v1h-1zM666 369h1v1h-1zM687 369h1v1h-1zM831 369h1v1h-1zM894 369h1v1h-1zM134 154h1v1h-1zM161 154h1v1h-1zM192 154h1v1h-1zM440 154h1v1h-1zM41 182h1v1h-1zM66 182h1v1h-1zM125 182h1v1h-1zM463 182h1v1h-1zM634 374h1v1h-1zM663 374h1v1h-1zM690 374h1v1h-1zM828 374h1v1h-1zM897 374h1v1h-1zM220 96h1v1h-1zM242 96h1v1h-1zM246 96h1v1h-1zM295 96h1v1h-1zM316 96h1v1h-1zM348 96h1v1h-1zM486 314h1v1h-1zM514 314h1v1h-1zM570 314h1v1h-1zM18 192h1v1h-1zM72 192h1v1h-1zM123 192h1v1h-1zM465 192h1v1h-1zM588 346h1v1h-1zM844 346h1v1h-1zM866 346h4v1h-4zM46 176h1v1h-1zM63 176h1v1h-1zM127 176h1v1h-1zM172 176h1v1h-1zM182 176h1v1h-1zM461 176h1v1h-1zM211 109h1v1h-1zM352 109h1v1h-1zM394 109h4v1h-4zM16 194h1v1h-1zM73 194h1v1h-1zM122 194h1v1h-1zM465 194h1v1h-1zM596 358h1v1h-1zM675 358h5v1h-5zM836 358h1v1h-1zM884 358h1v1h-1zM483 303h1v1h-1zM527 303h1v1h-1zM559 303h1v1h-1zM204 124h1v1h-1zM359 124h1v1h-1zM379 124h1v1h-1zM420 124h1v1h-1zM596 359h1v1h-1zM620 359h2v1h-2zM674 359h1v1h-1zM680 359h1v1h-1zM836 359h1v1h-1zM885 359h1v1h-1zM134 153h1v1h-1zM161 153h1v1h-1zM192 153h1v1h-1zM439 153h1v1h-1zM101 237h1v1h-1zM105 237h1v1h-1zM473 237h1v1h-1zM484 304h1v1h-1zM526 304h1v1h-1zM560 304h2v1h-2zM80 214h1v1h-1zM119 214h1v1h-1zM469 214h1v1h-1zM132 158h1v1h-1zM164 158h1v1h-1zM190 158h1v1h-1zM442 158h1v1h-1zM454 158h2v1h-2zM131 162h1v1h-1zM166 162h1v1h-1zM188 162h1v1h-1zM458 162h1v1h-1zM708 392h2v1h-2zM712 392h2v1h-2zM725 392h1v1h-1zM818 392h1v1h-1zM903 392h1v1h-1zM141 134h1v1h-1zM151 134h1v1h-1zM200 134h1v1h-1zM367 134h5v1h-5zM424 134h1v1h-1zM102 238h1v1h-1zM104 238h1v1h-1zM473 238h1v1h-1zM477 264h1v1h-1zM483 301h1v1h-1zM529 301h1v1h-1zM556 301h2v1h-2zM228 90h2v1h-2zM238 90h1v1h-1zM260 90h2v1h-2zM292 90h1v1h-1zM321 90h1v1h-1zM346 90h1v1h-1zM642 385h1v1h-1zM652 385h2v1h-2zM699 385h1v1h-1zM823 385h1v1h-1zM901 385h1v1h-1zM143 131h1v1h-1zM146 131h2v1h-2zM201 131h1v1h-1zM364 131h1v1h-1zM374 131h1v1h-1zM423 131h1v1h-1zM7 207h1v1h-1zM78 207h1v1h-1zM120 207h1v1h-1zM468 207h1v1h-1zM26 185h2v1h-2zM39 185h1v1h-1zM68 185h1v1h-1zM125 185h1v1h-1zM463 185h1v1h-1zM917 428h1v1h-1zM743 407h1v1h-1zM804 407h1v1h-1zM909 407h1v1h-1zM480 283h1v1h-1zM482 297h1v1h-1zM534 297h2v1h-2zM540 297h2v1h-2zM546 297h6v1h-6zM206 119h1v1h-1zM355 119h1v1h-1zM381 119h1v1h-1zM417 119h1v1h-1zM924 444h1v1h-1zM474 244h1v1h-1zM6 209h1v1h-1zM79 209h1v1h-1zM120 209h1v1h-1zM468 209h1v1h-1zM273 74h1v1h-1zM276 74h4v1h-4zM706 391h2v1h-2zM714 391h2v1h-2zM724 391h1v1h-1zM819 391h1v1h-1zM903 391h1v1h-1zM210 111h1v1h-1zM352 111h1v1h-1zM391 111h1v1h-1zM400 111h2v1h-2zM593 354h1v1h-1zM838 354h1v1h-1zM880 354h1v1h-1zM782 418h4v1h-4zM792 418h2v1h-2zM913 418h1v1h-1zM130 164h1v1h-1zM167 164h1v1h-1zM187 164h1v1h-1zM458 164h1v1h-1zM140 138h1v1h-1zM154 138h1v1h-1zM199 138h1v1h-1zM427 138h1v1h-1zM590 348h1v1h-1zM842 348h1v1h-1zM872 348h2v1h-2zM635 375h1v1h-1zM662 375h1v1h-1zM690 375h1v1h-1zM828 375h1v1h-1zM897 375h1v1h-1zM776 415h2v1h-2zM798 415h1v1h-1zM912 415h1v1h-1zM629 365h1v1h-1zM668 365h1v1h-1zM684 365h1v1h-1zM833 365h1v1h-1zM891 365h1v1h-1zM632 370h1v1h-1zM665 370h1v1h-1zM688 370h1v1h-1zM830 370h1v1h-1zM895 370h1v1h-1zM92 225h1v1h-1zM116 225h1v1h-1zM471 225h1v1h-1zM745 409h1v1h-1zM802 409h1v1h-1zM910 409h1v1h-1zM646 387h4v1h-4zM701 387h1v1h-1zM822 387h1v1h-1zM902 387h1v1h-1zM632 371h1v1h-1zM664 371h1v1h-1zM688 371h1v1h-1zM830 371h1v1h-1zM895 371h1v1h-1zM40 184h1v1h-1zM68 184h1v1h-1zM125 184h1v1h-1zM463 184h1v1h-1zM587 344h1v1h-1zM846 344h1v1h-1zM856 344h2v1h-2zM702 388h2v1h-2zM821 388h1v1h-1zM902 388h1v1h-1zM207 115h1v1h-1zM354 115h1v1h-1zM387 115h1v1h-1zM410 115h4v1h-4zM267 82h1v1h-1zM288 82h1v1h-1zM330 82h2v1h-2zM338 82h2v1h-2zM48 174h1v1h-1zM62 174h1v1h-1zM127 174h1v1h-1zM171 174h1v1h-1zM183 174h1v1h-1zM461 174h1v1h-1zM209 112h1v1h-1zM353 112h1v1h-1zM390 112h1v1h-1zM402 112h4v1h-4zM99 234h1v1h-1zM108 234h1v1h-1zM472 234h1v1h-1zM730 398h2v1h-2zM812 398h1v1h-1zM905 398h1v1h-1zM728 396h1v1h-1zM814 396h1v1h-1zM905 396h1v1h-1zM54 168h4v1h-4zM129 168h1v1h-1zM169 168h1v1h-1zM186 168h1v1h-1zM459 168h1v1h-1zM732 399h1v1h-1zM811 399h1v1h-1zM906 399h1v1h-1zM476 257h1v1h-1zM100 235h1v1h-1zM107 235h1v1h-1zM472 235h1v1h-1zM595 357h1v1h-1zM837 357h1v1h-1zM883 357h1v1h-1zM82 217h1v1h-1zM118 217h1v1h-1zM469 217h1v1h-1zM597 361h1v1h-1zM614 361h2v1h-2zM626 361h2v1h-2zM671 361h1v1h-1zM682 361h1v1h-1zM835 361h1v1h-1zM887 361h1v1h-1zM768 414h8v1h-8zM799 414h1v1h-1zM912 414h1v1h-1zM203 127h1v1h-1zM362 127h1v1h-1zM377 127h1v1h-1zM421 127h1v1h-1zM132 159h1v1h-1zM164 159h1v1h-1zM189 159h1v1h-1zM442 159h1v1h-1zM450 159h4v1h-4zM456 159h2v1h-2zM24 187h1v1h-1zM30 187h8v1h-8zM69 187h1v1h-1zM124 187h1v1h-1zM464 187h1v1h-1zM641 384h1v1h-1zM654 384h2v1h-2zM698 384h1v1h-1zM823 384h1v1h-1zM901 384h1v1h-1zM139 140h1v1h-1zM155 140h1v1h-1zM198 140h1v1h-1zM428 140h1v1h-1zM52 170h1v1h-1zM60 170h1v1h-1zM128 170h1v1h-1zM169 170h1v1h-1zM185 170h1v1h-1zM460 170h1v1h-1zM138 143h1v1h-1zM156 143h1v1h-1zM197 143h1v1h-1zM431 143h1v1h-1zM205 121h1v1h-1zM356 121h1v1h-1zM380 121h1v1h-1zM418 121h1v1h-1zM94 227h1v1h-1zM115 227h1v1h-1zM471 227h1v1h-1zM922 441h1v1h-1zM479 280h1v1h-1zM268 81h1v1h-1zM287 81h1v1h-1zM332 81h6v1h-6zM129 167h1v1h-1zM168 167h1v1h-1zM186 167h1v1h-1zM459 167h1v1h-1zM583 337h1v1h-1zM14 197h1v1h-1zM75 197h1v1h-1zM122 197h1v1h-1zM466 197h1v1h-1zM587 343h1v1h-1zM847 343h9v1h-9zM636 377h1v1h-1zM661 377h1v1h-1zM692 377h1v1h-1zM827 377h1v1h-1zM898 377h1v1h-1zM211 108h1v1h-1zM351 108h1v1h-1zM202 128h1v1h-1zM362 128h1v1h-1zM376 128h1v1h-1zM421 128h1v1h-1zM214 102h1v1h-1zM299 102h1v1h-1zM310 102h2v1h-2zM350 102h1v1h-1zM485 309h1v1h-1zM518 309h2v1h-2zM566 309h1v1h-1zM637 380h1v1h-1zM658 380h1v1h-1zM694 380h1v1h-1zM825 380h1v1h-1zM899 380h1v1h-1zM25 186h1v1h-1zM28 186h2v1h-2zM38 186h1v1h-1zM69 186h1v1h-1zM124 186h1v1h-1zM463 186h1v1h-1zM478 269h1v1h-1zM636 378h1v1h-1zM660 378h1v1h-1zM692 378h1v1h-1zM826 378h1v1h-1zM899 378h1v1h-1zM631 368h1v1h-1zM666 368h1v1h-1zM686 368h1v1h-1zM831 368h1v1h-1zM894 368h1v1h-1zM42 181h1v1h-1zM66 181h1v1h-1zM126 181h1v1h-1zM462 181h1v1h-1zM634 373h1v1h-1zM663 373h1v1h-1zM689 373h1v1h-1zM829 373h1v1h-1zM896 373h1v1h-1zM96 231h1v1h-1zM111 231h1v1h-1zM472 231h1v1h-1zM226 91h2v1h-2zM238 91h1v1h-1zM256 91h4v1h-4zM293 91h1v1h-1zM320 91h1v1h-1zM346 91h1v1h-1zM19 191h1v1h-1zM72 191h1v1h-1zM123 191h1v1h-1zM465 191h1v1h-1zM597 360h1v1h-1zM616 360h4v1h-4zM622 360h4v1h-4zM672 360h2v1h-2zM681 360h1v1h-1zM835 360h1v1h-1zM886 360h1v1h-1zM224 92h2v1h-2zM239 92h1v1h-1zM249 92h7v1h-7zM293 92h1v1h-1zM319 92h1v1h-1zM347 92h1v1h-1zM486 313h1v1h-1zM515 313h1v1h-1zM570 313h1v1h-1zM139 142h1v1h-1zM155 142h1v1h-1zM197 142h1v1h-1zM430 142h1v1h-1zM475 249h1v1h-1zM5 210h1v1h-1zM79 210h1v1h-1zM119 210h1v1h-1zM468 210h1v1h-1zM481 292h1v1h-1zM80 213h1v1h-1zM119 213h1v1h-1zM469 213h1v1h-1zM136 150h1v1h-1zM159 150h1v1h-1zM194 150h1v1h-1zM436 150h1v1h-1zM12 200h1v1h-1zM76 200h1v1h-1zM121 200h1v1h-1zM466 200h1v1h-1zM484 307h1v1h-1zM522 307h2v1h-2zM564 307h1v1h-1zM139 141h1v1h-1zM155 141h1v1h-1zM198 141h1v1h-1zM429 141h1v1h-1zM917 427h1v1h-1zM480 282h1v1h-1zM585 340h1v1h-1zM208 114h1v1h-1zM353 114h1v1h-1zM388 114h1v1h-1zM408 114h2v1h-2zM474 243h1v1h-1zM203 126h1v1h-1zM361 126h1v1h-1zM378 126h1v1h-1zM421 126h1v1h-1zM133 156h1v1h-1zM162 156h1v1h-1zM191 156h1v1h-1zM441 156h1v1h-1zM589 347h1v1h-1zM843 347h1v1h-1zM870 347h2v1h-2zM140 137h1v1h-1zM153 137h1v1h-1zM199 137h1v1h-1zM426 137h1v1h-1zM230 89h8v1h-8zM262 89h2v1h-2zM292 89h1v1h-1zM322 89h1v1h-1zM345 89h1v1h-1zM484 306h1v1h-1zM524 306h1v1h-1zM563 306h1v1h-1zM205 120h1v1h-1zM356 120h1v1h-1zM381 120h1v1h-1zM418 120h1v1h-1zM705 390h1v1h-1zM716 390h1v1h-1zM720 390h4v1h-4zM820 390h1v1h-1zM903 390h1v1h-1zM477 266h1v1h-1zM142 133h1v1h-1zM150 133h1v1h-1zM201 133h1v1h-1zM366 133h1v1h-1zM372 133h1v1h-1zM424 133h1v1h-1zM736 402h2v1h-2zM808 402h1v1h-1zM907 402h1v1h-1zM487 320h1v1h-1zM510 320h1v1h-1zM574 320h1v1h-1zM50 171h2v1h-2zM60 171h1v1h-1zM128 171h1v1h-1zM170 171h1v1h-1zM184 171h1v1h-1zM460 171h1v1h-1zM489 325h1v1h-1zM507 325h1v1h-1zM577 325h1v1h-1zM744 408h1v1h-1zM803 408h1v1h-1zM910 408h1v1h-1zM489 326h1v1h-1zM506 326h1v1h-1zM578 326h1v1h-1zM16 195h1v1h-1zM74 195h1v1h-1zM122 195h1v1h-1zM465 195h1v1h-1zM480 285h1v1h-1zM221 95h1v1h-1zM242 95h1v1h-1zM247 95h1v1h-1zM295 95h1v1h-1zM316 95h1v1h-1zM348 95h1v1h-1zM79 211h1v1h-1zM119 211h1v1h-1zM468 211h1v1h-1zM780 417h2v1h-2zM794 417h2v1h-2zM913 417h1v1h-1zM483 302h1v1h-1zM528 302h1v1h-1zM558 302h1v1h-1zM727 395h1v1h-1zM815 395h1v1h-1zM904 395h1v1h-1zM269 78h1v1h-1zM284 78h2v1h-2zM140 139h1v1h-1zM154 139h1v1h-1zM198 139h1v1h-1zM428 139h1v1h-1zM129 166h1v1h-1zM168 166h1v1h-1zM187 166h1v1h-1zM459 166h1v1h-1zM643 386h3v1h-3zM650 386h2v1h-2zM700 386h1v1h-1zM822 386h1v1h-1zM901 386h1v1h-1zM479 279h1v1h-1zM630 366h1v1h-1zM667 366h1v1h-1zM685 366h1v1h-1zM832 366h1v1h-1zM892 366h1v1h-1zM48 173h1v1h-1zM62 173h1v1h-1zM128 173h1v1h-1zM171 173h1v1h-1zM183 173h1v1h-1zM460 173h1v1h-1zM137 147h1v1h-1zM158 147h1v1h-1zM195 147h1v1h-1zM434 147h1v1h-1zM598 362h1v1h-1zM610 362h4v1h-4zM628 362h1v1h-1zM670 362h1v1h-1zM682 362h1v1h-1zM834 362h1v1h-1zM888 362h1v1h-1zM267 83h1v1h-1zM288 83h1v1h-1zM329 83h1v1h-1zM340 83h1v1h-1zM482 296h1v1h-1zM536 296h4v1h-4zM212 107h1v1h-1zM351 107h1v1h-1zM222 94h1v1h-1zM241 94h1v1h-1zM248 94h1v1h-1zM294 94h1v1h-1zM317 94h1v1h-1zM347 94h1v1h-1zM738 403h1v1h-1zM808 403h1v1h-1zM907 403h1v1h-1zM704 389h1v1h-1zM717 389h3v1h-3zM820 389h1v1h-1zM902 389h1v1h-1zM485 308h1v1h-1zM520 308h2v1h-2zM565 308h1v1h-1zM476 259h1v1h-1zM135 151h1v1h-1zM160 151h1v1h-1zM193 151h1v1h-1zM437 151h1v1h-1zM204 123h1v1h-1zM358 123h1v1h-1zM379 123h1v1h-1zM419 123h1v1h-1zM133 157h1v1h-1zM163 157h1v1h-1zM190 157h1v1h-1zM441 157h1v1h-1zM84 220h1v1h-1zM117 220h1v1h-1zM470 220h1v1h-1zM591 350h1v1h-1zM841 350h1v1h-1zM876 350h1v1h-1zM483 299h1v1h-1zM532 299h1v1h-1zM554 299h1v1h-1zM488 323h1v1h-1zM508 323h1v1h-1zM576 323h1v1h-1zM483 300h1v1h-1zM530 300h2v1h-2zM555 300h1v1h-1zM919 433h1v1h-1zM53 169h1v1h-1zM58 169h2v1h-2zM129 169h1v1h-1zM169 169h1v1h-1zM185 169h1v1h-1zM459 169h1v1h-1zM136 149h1v1h-1zM159 149h1v1h-1zM194 149h1v1h-1zM436 149h1v1h-1zM266 86h1v1h-1zM290 86h1v1h-1zM325 86h1v1h-1zM343 86h1v1h-1zM206 117h1v1h-1zM354 117h1v1h-1zM384 117h2v1h-2zM415 117h1v1h-1zM208 113h1v1h-1zM353 113h1v1h-1zM389 113h1v1h-1zM406 113h2v1h-2zM17 193h1v1h-1zM73 193h1v1h-1zM123 193h1v1h-1zM465 193h1v1h-1zM926 449h1v1h-1zM213 104h1v1h-1zM300 104h1v1h-1zM306 104h2v1h-2zM350 104h1v1h-1zM633 372h1v1h-1zM664 372h1v1h-1zM689 372h1v1h-1zM829 372h1v1h-1zM896 372h1v1h-1zM144 130h2v1h-2zM202 130h1v1h-1zM364 130h1v1h-1zM375 130h1v1h-1zM422 130h1v1h-1zM710 393h2v1h-2zM726 393h1v1h-1zM817 393h1v1h-1zM904 393h1v1h-1zM485 311h1v1h-1zM516 311h1v1h-1zM568 311h1v1h-1zM22 188h2v1h-2zM70 188h1v1h-1zM124 188h1v1h-1zM464 188h1v1h-1zM478 271h1v1h-1zM98 233h1v1h-1zM109 233h1v1h-1zM472 233h1v1h-1zM635 376h1v1h-1zM662 376h1v1h-1zM691 376h1v1h-1zM827 376h1v1h-1zM898 376h1v1h-1zM21 189h1v1h-1zM70 189h1v1h-1zM124 189h1v1h-1zM464 189h1v1h-1zM45 177h1v1h-1zM64 177h1v1h-1zM127 177h1v1h-1zM172 177h1v1h-1zM182 177h1v1h-1zM461 177h1v1h-1zM271 76h1v1h-1zM281 76h1v1h-1zM202 129h1v1h-1zM363 129h1v1h-1zM376 129h1v1h-1zM422 129h1v1h-1zM80 212h1v1h-1zM119 212h1v1h-1zM468 212h1v1h-1zM484 305h1v1h-1zM525 305h1v1h-1zM562 305h1v1h-1zM203 125h1v1h-1zM360 125h1v1h-1zM378 125h1v1h-1zM420 125h1v1h-1zM592 352h1v1h-1zM840 352h1v1h-1zM878 352h1v1h-1zM137 148h1v1h-1zM158 148h1v1h-1zM195 148h1v1h-1zM435 148h1v1h-1zM20 190h1v1h-1zM71 190h1v1h-1zM123 190h1v1h-1zM464 190h1v1h-1zM494 331h4v1h-4zM502 331h2v1h-2zM580 331h1v1h-1zM480 284h1v1h-1zM924 445h1v1h-1zM474 245h1v1h-1zM8 206h1v1h-1zM78 206h1v1h-1zM120 206h1v1h-1zM467 206h1v1h-1zM925 446h1v1h-1zM928 451h1v1h-1zM586 342h1v1h-1zM86 222h2v1h-2zM116 222h1v1h-1zM470 222h1v1h-1zM130 165h1v1h-1zM167 165h1v1h-1zM187 165h1v1h-1zM459 165h1v1h-1zM477 268h1v1h-1zM482 298h1v1h-1zM533 298h1v1h-1zM542 298h4v1h-4zM552 298h2v1h-2zM95 229h1v1h-1zM113 229h1v1h-1zM471 229h1v1h-1zM480 287h1v1h-1zM47 175h1v1h-1zM63 175h1v1h-1zM127 175h1v1h-1zM171 175h1v1h-1zM183 175h1v1h-1zM461 175h1v1h-1zM10 202h1v1h-1zM76 202h1v1h-1zM121 202h1v1h-1zM467 202h1v1h-1zM733 400h1v1h-1zM810 400h1v1h-1zM906 400h1v1h-1zM476 258h1v1h-1zM637 379h1v1h-1zM659 379h1v1h-1zM693 379h1v1h-1zM826 379h1v1h-1zM899 379h1v1h-1zM83 219h1v1h-1zM117 219h1v1h-1zM470 219h1v1h-1zM778 416h2v1h-2zM796 416h2v1h-2zM913 416h1v1h-1zM640 383h1v1h-1zM656 383h1v1h-1zM697 383h1v1h-1zM824 383h1v1h-1zM900 383h1v1h-1zM138 144h1v1h-1zM156 144h1v1h-1zM197 144h1v1h-1zM432 144h1v1h-1zM49 172h1v1h-1zM61 172h1v1h-1zM128 172h1v1h-1zM170 172h1v1h-1zM184 172h1v1h-1zM460 172h1v1h-1zM919 432h1v1h-1zM265 87h1v1h-1zM291 87h1v1h-1zM324 87h1v1h-1zM344 87h1v1h-1zM138 145h1v1h-1zM157 145h1v1h-1zM196 145h1v1h-1zM432 145h1v1h-1zM479 281h1v1h-1zM13 198h1v1h-1zM75 198h1v1h-1zM122 198h1v1h-1zM466 198h1v1h-1zM926 448h1v1h-1zM219 97h1v1h-1zM243 97h3v1h-3zM296 97h1v1h-1zM315 97h1v1h-1zM348 97h1v1h-1zM218 98h1v1h-1zM296 98h1v1h-1zM314 98h1v1h-1zM348 98h1v1h-1zM214 103h1v1h-1zM300 103h1v1h-1zM308 103h2v1h-2zM350 103h1v1h-1zM485 310h1v1h-1zM517 310h1v1h-1zM567 310h1v1h-1zM476 261h1v1h-1zM97 232h1v1h-1zM110 232h1v1h-1zM472 232h1v1h-1zM40 183h1v1h-1zM67 183h1v1h-1zM125 183h1v1h-1zM463 183h1v1h-1zM131 161h1v1h-1zM166 161h1v1h-1zM189 161h1v1h-1zM443 161h1v1h-1zM458 161h1v1h-1zM223 93h1v1h-1zM240 93h1v1h-1zM248 93h1v1h-1zM294 93h1v1h-1zM318 93h1v1h-1zM347 93h1v1h-1zM217 99h1v1h-1zM297 99h1v1h-1zM313 99h1v1h-1zM349 99h1v1h-1zM475 250h1v1h-1zM481 293h1v1h-1zM487 317h1v1h-1zM512 317h1v1h-1zM572 317h1v1h-1zM734 401h2v1h-2zM809 401h1v1h-1zM907 401h1v1h-1zM482 294h1v1h-1zM103 239h1v1h-1zM473 239h1v1h-1zM85 221h1v1h-1zM117 221h1v1h-1zM470 221h1v1h-1zM488 324h1v1h-1zM508 324h1v1h-1zM577 324h1v1h-1zM9 204h1v1h-1zM77 204h1v1h-1zM121 204h1v1h-1zM467 204h1v1h-1zM638 381h1v1h-1zM657 381h1v1h-1zM695 381h1v1h-1zM825 381h1v1h-1zM900 381h1v1h-1zM478 273h1v1h-1zM498 332h4v1h-4zM580 332h1v1h-1zM268 80h1v1h-1zM286 80h1v1h-1zM586 341h1v1h-1zM726 394h1v1h-1zM816 394h1v1h-1zM904 394h1v1h-1zM270 77h1v1h-1zM282 77h2v1h-2zM264 88h1v1h-1zM291 88h1v1h-1zM323 88h1v1h-1zM345 88h1v1h-1zM592 351h1v1h-1zM840 351h1v1h-1zM877 351h1v1h-1zM477 267h1v1h-1zM490 327h1v1h-1zM506 327h1v1h-1zM578 327h1v1h-1zM480 286h1v1h-1zM921 437h1v1h-1zM491 328h1v1h-1zM505 328h1v1h-1zM579 328h1v1h-1zM94 228h1v1h-1zM114 228h1v1h-1zM471 228h1v1h-1zM749 412h1v1h-1zM800 412h1v1h-1zM911 412h1v1h-1zM11 201h1v1h-1zM76 201h1v1h-1zM121 201h1v1h-1zM466 201h1v1h-1zM274 73h2v1h-2zM474 247h1v1h-1zM269 79h1v1h-1zM286 79h1v1h-1zM630 367h1v1h-1zM667 367h1v1h-1zM686 367h1v1h-1zM832 367h1v1h-1zM893 367h1v1h-1zM594 355h1v1h-1zM838 355h1v1h-1zM881 355h1v1h-1zM12 199h1v1h-1zM75 199h1v1h-1zM122 199h1v1h-1zM466 199h1v1h-1zM88 223h2v1h-2zM116 223h1v1h-1zM470 223h1v1h-1zM476 260h1v1h-1zM90 224h2v1h-2zM116 224h1v1h-1zM470 224h1v1h-1zM140 136h1v1h-1zM153 136h1v1h-1zM199 136h1v1h-1zM426 136h1v1h-1zM919 434h1v1h-1zM137 146h1v1h-1zM157 146h1v1h-1zM196 146h1v1h-1zM433 146h1v1h-1zM485 312h1v1h-1zM516 312h1v1h-1zM569 312h1v1h-1zM478 272h1v1h-1zM10 203h1v1h-1zM77 203h1v1h-1zM121 203h1v1h-1zM467 203h1v1h-1zM748 411h1v1h-1zM801 411h1v1h-1zM911 411h1v1h-1zM487 318h1v1h-1zM511 318h1v1h-1zM573 318h1v1h-1zM141 135h1v1h-1zM152 135h1v1h-1zM200 135h1v1h-1zM425 135h1v1h-1zM475 252h1v1h-1zM729 397h1v1h-1zM813 397h1v1h-1zM905 397h1v1h-1zM746 410h2v1h-2zM802 410h1v1h-1zM911 410h1v1h-1zM739 404h1v1h-1zM807 404h1v1h-1zM908 404h1v1h-1zM914 420h1v1h-1zM915 421h1v1h-1zM474 246h1v1h-1zM925 447h1v1h-1zM100 236h1v1h-1zM106 236h1v1h-1zM472 236h1v1h-1zM93 226h1v1h-1zM115 226h1v1h-1zM471 226h1v1h-1zM742 406h1v1h-1zM805 406h1v1h-1zM909 406h1v1h-1zM927 450h1v1h-1zM916 425h1v1h-1zM923 442h1v1h-1zM475 251h1v1h-1zM482 295h1v1h-1zM81 216h1v1h-1zM118 216h1v1h-1zM469 216h1v1h-1zM215 101h1v1h-1zM298 101h1v1h-1zM312 101h1v1h-1zM349 101h1v1h-1zM593 353h1v1h-1zM839 353h1v1h-1zM879 353h1v1h-1zM478 274h1v1h-1zM740 405h2v1h-2zM806 405h1v1h-1zM908 405h1v1h-1zM479 275h1v1h-1zM475 254h1v1h-1zM590 349h1v1h-1zM842 349h1v1h-1zM874 349h2v1h-2zM915 423h1v1h-1zM921 438h1v1h-1zM492 329h1v1h-1zM504 329h1v1h-1zM579 329h1v1h-1zM474 248h1v1h-1zM486 315h1v1h-1zM513 315h1v1h-1zM571 315h1v1h-1zM216 100h1v1h-1zM298 100h1v1h-1zM312 100h1v1h-1zM349 100h1v1h-1zM916 424h1v1h-1zM272 75h1v1h-1zM280 75h1v1h-1zM920 435h1v1h-1zM473 240h1v1h-1zM493 330h1v1h-1zM504 330h1v1h-1zM579 330h1v1h-1zM475 253h1v1h-1zM915 422h1v1h-1zM479 277h1v1h-1zM918 430h1v1h-1zM582 336h1v1h-1zM481 289h1v1h-1zM212 106h1v1h-1zM351 106h1v1h-1zM96 230h1v1h-1zM112 230h1v1h-1zM471 230h1v1h-1zM477 263h1v1h-1zM923 443h1v1h-1zM581 334h1v1h-1zM584 339h1v1h-1zM473 242h1v1h-1zM479 276h1v1h-1zM475 255h1v1h-1zM476 256h1v1h-1zM918 429h1v1h-1zM921 439h1v1h-1zM582 335h1v1h-1zM922 440h1v1h-1zM481 288h1v1h-1zM481 291h1v1h-1zM477 262h1v1h-1zM917 426h1v1h-1zM581 333h1v1h-1zM584 338h1v1h-1zM920 436h1v1h-1zM473 241h1v1h-1zM477 265h1v1h-1zM479 278h1v1h-1z" fill="#ff0000"/>
</g>
<rect x="5" y="171" width="1162" height="2" fill="#ff0000"/><rect x="4" y="169" width="6" height="6" fill="#ff0000"/><rect x="6" y="171" width="2" height="2" fill="#fff"/><rect x="1161" y="169" width="6" height="6" fill="#ff0000"/><rect x="1163" y="171" width="2" height="2" fill="#fff"/>
<rect x="5" y="248" width="1162" height="2" fill="#ff0000"/><rect x="4" y="246" width="6" height="6" fill="#ff0000"/><rect x="6" y="248" width="2" height="2" fill="#fff"/><rect x="1161" y="246" width="6" height="6" fill="#ff0000"/><rect x="1163" y="248" width="2" height="2" fill="#fff"/>
<rect x="5" y="325" width="1162" height="2" fill="#ff0000"/><rect x="4" y="323" width="6" height="6" fill="#ff0000"/><rect x="6" y="325" width="2" height="2" fill="#fff"/><rect x="1161" y="323" width="6" height="6" fill="#ff0000"/><rect x="1163" y="325" width="2" height="2" fill="#fff"/>
<rect x="5" y="399" width="1162" height="2" fill="#00ff00"/><rect x="4" y="397" width="6" height="6" fill="#00ff00"/><rect x="6" y="399" width="2" height="2" fill="#fff"/><rect x="1161" y="397" width="6" height="6" fill="#00ff00"/><rect x="1163" y="399" width="2" height="2" fill="#fff"/>
<rect x="5" y="478" width="1162" height="2" fill="#0000ff"/>
<path d="M5 161v19h1v-19zM7 167v15h1v-15zM9 178v25h1v-25zM15 179v18h1v-18zM19 190v17h1v-17zM23 180v13h1v-13zM27 179v11h1v-11zM29 188v7h1v-7zM31 190v17h1v-17zM41 136v20h1v-20zM43 145v21h1v-21zM45 146v26h1v-26zM51 151v11h1v-11zM53 157v6h1v-6zM55 158v22h1v-22zM57 175v24h1v-24zM59 189v44h1v-44zM61 222v14h1v-14zM63 222v15h1v-15zM75 197v17h1v-17zM77 199v25h1v-25zM79 220v32h1v-32zM81 228v20h1v-20zM83 224v21h1v-21zM89 231v14h1v-14zM91 238v22h1v-22zM93 236v20h1v-20zM101 242v14h1v-14zM107 198v16h1v-16zM111 197v9h1v-9zM113 197v9h1v-9zM123 115v21h1v-21zM129 114v21h1v-21zM133 118v26h1v-26zM135 140v14h1v-14zM143 117v19h1v-19zM145 118v21h1v-21zM147 135v13h1v-13zM149 144v19h1v-19zM153 134v39h1v-39zM155 172v26h1v-26zM163 169v42h1v-42zM171 184v12h1v-12zM179 137v13h1v-13zM181 139v11h1v-11zM183 134v19h1v-19zM189 121v27h1v-27zM203 80v16h1v-16zM211 82v17h1v-17zM217 103v25h1v-25zM221 108v10h1v-10zM235 67v23h1v-23zM237 68v49h1v-49zM239 103v15h1v-15zM243 108v9h1v-9zM251 78v14h1v-14zM257 73v10h1v-10zM261 46v22h1v-22zM263 56v18h1v-18zM265 54v23h1v-23zM267 55v11h1v-11zM271 54v19h1v-19zM273 63v22h1v-22zM275 67v33h1v-33zM277 94v18h1v-18zM279 99v17h1v-17zM281 99v12h1v-12zM283 87v26h1v-26zM287 92v16h1v-16zM291 98v12h1v-12zM293 99v16h1v-16zM297 103v45h1v-45zM305 91v19h1v-19zM307 96v14h1v-14zM311 73v9h1v-9zM313 73v6h1v-6zM315 70v10h1v-10zM325 64v23h1v-23zM327 77v11h1v-11zM329 77v12h1v-12zM331 83v38h1v-38zM337 85v9h1v-9zM339 87v7h1v-7zM341 88v14h1v-14zM343 99v14h1v-14zM345 90v56h1v-56zM347 134v23h1v-23zM349 148v11h1v-11zM351 149v14h1v-14zM353 154v15h1v-15zM359 109v18h1v-18zM361 113v16h1v-16zM363 115v14h1v-14zM365 117v17h1v-17zM373 96v10h1v-10zM375 101v10h1v-10zM377 107v8h1v-8zM379 108v15h1v-15zM383 102v15h1v-15zM385 110v9h1v-9zM389 108v7h1v-7zM395 84v25h1v-25zM397 108v9h1v-9zM399 113v8h1v-8zM401 119v7h1v-7zM407 105v20h1v-20zM409 105v18h1v-18zM415 102v31h1v-31zM417 127v39h1v-39zM419 153v27h1v-27zM421 171v8h1v-8zM423 165v13h1v-13zM433 153v9h1v-9zM435 154v10h1v-10zM437 152v10h1v-10zM439 137v21h1v-21zM443 150v11h1v-11zM451 147v13h1v-13zM453 151v16h1v-16zM455 153v13h1v-13zM457 157v92h1v-92zM459 241v21h1v-21zM463 249v51h1v-51zM465 286v21h1v-21zM467 294v30h1v-30zM469 310v23h1v-23zM471 314v12h1v-12zM473 307v24h1v-24zM477 309v47h1v-47zM481 340v10h1v-10zM483 343v14h1v-14zM491 312v17h1v-17zM495 311v15h1v-15zM497 315v18h1v-18zM499 318v24h1v-24zM507 292v16h1v-16zM511 292v22h1v-22zM515 274v22h1v-22zM517 288v24h1v-24zM519 301v12h1v-12zM527 288v23h1v-23zM533 292v8h1v-8zM539 270v26h1v-26zM541 295v11h1v-11zM543 298v13h1v-13zM549 298v27h1v-27zM553 297v11h1v-11zM555 303v11h1v-11zM557 309v12h1v-12zM559 310v18h1v-18zM561 316v27h1v-27zM567 321v10h1v-10zM569 319v11h1v-11zM571 320v19h1v-19zM573 325v22h1v-22zM575 345v23h1v-23zM577 356v12h1v-12zM579 357v6h1v-6zM581 357v11h1v-11zM587 343v20h1v-20zM589 356v11h1v-11zM591 362v9h1v-9zM593 365v7h1v-7zM595 368v18h1v-18zM603 351v12h1v-12zM609 341v13h1v-13zM619 330v50h1v-50zM621 366v19h1v-19zM623 370v10h1v-10zM631 378v25h1v-25zM633 375v18h1v-18zM635 397v21h1v-21zM637 388v21h1v-21zM639 403v12h1v-12zM647 351v25h1v-25zM649 366v11h1v-11zM651 365v7h1v-7zM653 371v8h1v-8zM659 346v15h1v-15zM661 343v16h1v-16zM663 342v16h1v-16zM665 347v14h1v-14zM667 342v28h1v-28zM671 351v14h1v-14zM677 345v15h1v-15zM679 353v23h1v-23zM681 364v45h1v-45zM683 378v18h1v-18zM685 390v34h1v-34zM697 374v12h1v-12zM705 369v30h1v-30zM707 380v19h1v-19zM711 391v10h1v-10zM717 388v21h1v-21zM719 389v16h1v-16zM721 389v15h1v-15zM723 397v7h1v-7zM725 397v8h1v-8zM727 402v27h1v-27zM731 397v10h1v-10zM733 396v15h1v-15zM735 401v10h1v-10zM737 400v18h1v-18zM741 407v30h1v-30zM745 412v15h1v-15zM747 413v12h1v-12zM749 417v11h1v-11zM759 401v12h1v-12zM761 401v10h1v-10zM767 390v40h1v-40zM773 421v10h1v-10zM777 423v15h1v-15zM779 428v9h1v-9zM781 423v10h1v-10zM793 393v11h1v-11zM795 393v10h1v-10zM797 398v6h1v-6zM799 400v26h1v-26zM805 371v22h1v-22zM807 384v7h1v-7zM809 383v12h1v-12zM811 380v18h1v-18zM813 388v28h1v-28zM831 331v12h1v-12zM833 338v8h1v-8zM837 323v24h1v-24zM839 340v24h1v-24zM849 332v16h1v-16zM851 337v10h1v-10zM853 343v5h1v-5zM855 343v11h1v-11zM857 339v11h1v-11zM861 331v26h1v-26zM863 345v18h1v-18zM871 342v30h1v-30zM875 332v47h1v-47zM877 370v7h1v-7zM879 373v5h1v-5zM881 373v6h1v-6zM883 365v17h1v-17zM887 363v15h1v-15zM889 371v10h1v-10zM891 375v10h1v-10zM893 382v8h1v-8zM895 380v18h1v-18zM897 394v34h1v-34zM899 422v16h1v-16zM901 431v8h1v-8zM905 428v8h1v-8zM907 429v13h1v-13zM909 427v20h1v-20zM913 442v12h1v-12zM915 449v7h1v-7zM919 446v17h1v-17zM921 458v14h1v-14zM925 461v8h1v-8z" fill="#32cd32"/>
<path d="M11 186v8h1v-8zM13 178v21h1v-21zM17 192v11h1v-11zM21 180v19h1v-19zM25 180v12h1v-12zM33 193v14h1v-14zM35 172v27h1v-27zM37 147v53h1v-53zM39 135v23h1v-23zM47 159v15h1v-15zM49 151v17h1v-17zM65 219v22h1v-22zM67 206v21h1v-21zM69 192v27h1v-27zM71 192v13h1v-13zM73 198v13h1v-13zM85 231v13h1v-13zM87 232v11h1v-11zM95 242v14h1v-14zM97 244v14h1v-14zM99 241v11h1v-11zM103 210v36h1v-36zM105 195v27h1v-27zM109 202v15h1v-15zM115 180v29h1v-29zM117 138v69h1v-69zM119 124v37h1v-37zM121 123v20h1v-20zM125 125v11h1v-11zM127 116v30h1v-30zM131 118v14h1v-14zM137 136v20h1v-20zM139 121v36h1v-36zM141 111v27h1v-27zM151 140v17h1v-17zM157 188v12h1v-12zM159 180v18h1v-18zM161 182v17h1v-17zM165 175v29h1v-29zM167 175v26h1v-26zM169 180v23h1v-23zM173 180v13h1v-13zM175 151v42h1v-42zM177 139v29h1v-29zM185 141v12h1v-12zM187 121v29h1v-29zM191 130v13h1v-13zM193 126v9h1v-9zM195 122v19h1v-19zM197 121v6h1v-6zM199 102v24h1v-24zM201 82v16h1v-16zM205 78v17h1v-17zM207 76v18h1v-18zM209 80v17h1v-17zM213 88v17h1v-17zM215 86v14h1v-14zM219 109v12h1v-12zM223 105v10h1v-10zM225 102v10h1v-10zM227 86v15h1v-15zM229 77v13h1v-13zM231 67v17h1v-17zM233 69v11h1v-11zM241 111v16h1v-16zM245 102v14h1v-14zM247 82v34h1v-34zM249 75v17h1v-17zM253 83v11h1v-11zM255 76v16h1v-16zM259 50v32h1v-32zM269 49v17h1v-17zM285 89v24h1v-24zM289 94v16h1v-16zM295 96v23h1v-23zM299 98v27h1v-27zM301 94v15h1v-15zM303 92v18h1v-18zM309 76v33h1v-33zM317 69v15h1v-15zM319 65v22h1v-22zM321 66v20h1v-20zM323 55v15h1v-15zM333 83v41h1v-41zM335 83v18h1v-18zM355 160v13h1v-13zM357 110v62h1v-62zM367 120v19h1v-19zM369 104v29h1v-29zM371 97v12h1v-12zM381 107v14h1v-14zM387 111v8h1v-8zM391 104v11h1v-11zM393 83v27h1v-27zM403 117v16h1v-16zM405 101v39h1v-39zM411 105v21h1v-21zM413 104v21h1v-21zM425 167v12h1v-12zM427 154v25h1v-25zM429 150v15h1v-15zM431 152v6h1v-6zM441 151v20h1v-20zM445 151v9h1v-9zM447 150v10h1v-10zM449 151v11h1v-11zM461 245v10h1v-10zM475 308v30h1v-30zM479 343v24h1v-24zM485 338v28h1v-28zM487 324v41h1v-41zM489 311v28h1v-28zM493 310v15h1v-15zM501 318v23h1v-23zM503 317v16h1v-16zM505 286v36h1v-36zM509 305v10h1v-10zM513 273v26h1v-26zM521 304v6h1v-6zM523 292v18h1v-18zM525 283v22h1v-22zM529 293v16h1v-16zM531 291v15h1v-15zM535 288v10h1v-10zM537 269v30h1v-30zM545 297v14h1v-14zM547 292v16h1v-16zM551 296v15h1v-15zM563 318v24h1v-24zM565 320v12h1v-12zM583 356v18h1v-18zM585 339v26h1v-26zM597 358v39h1v-39zM599 361v19h1v-19zM601 345v28h1v-28zM605 352v10h1v-10zM607 341v22h1v-22zM611 350v7h1v-7zM613 350v5h1v-5zM615 349v5h1v-5zM617 339v14h1v-14zM625 381v16h1v-16zM627 381v10h1v-10zM629 376v11h1v-11zM641 398v17h1v-17zM643 377v32h1v-32zM645 353v26h1v-26zM655 361v19h1v-19zM657 349v13h1v-13zM669 346v30h1v-30zM673 355v9h1v-9zM675 350v9h1v-9zM687 416v8h1v-8zM689 410v11h1v-11zM691 403v18h1v-18zM693 382v27h1v-27zM695 382v7h1v-7zM699 376v9h1v-9zM701 370v17h1v-17zM703 364v19h1v-19zM709 393v13h1v-13zM713 391v12h1v-12zM715 387v14h1v-14zM729 384v46h1v-46zM739 401v23h1v-23zM743 417v20h1v-20zM751 414v25h1v-25zM753 409v25h1v-25zM755 399v17h1v-17zM757 399v18h1v-18zM763 403v16h1v-16zM765 380v45h1v-45zM769 420v15h1v-15zM771 418v11h1v-11zM775 413v16h1v-16zM783 420v11h1v-11zM785 413v14h1v-14zM787 418v10h1v-10zM789 390v30h1v-30zM791 391v12h1v-12zM801 383v38h1v-38zM803 374v24h1v-24zM815 393v16h1v-16zM817 365v58h1v-58zM819 365v11h1v-11zM821 357v11h1v-11zM823 343v22h1v-22zM825 339v11h1v-11zM827 334v11h1v-11zM829 333v11h1v-11zM835 320v26h1v-26zM841 353v11h1v-11zM843 348v12h1v-12zM845 339v16h1v-16zM847 329v19h1v-19zM859 337v12h1v-12zM865 347v13h1v-13zM867 348v10h1v-10zM869 347v6h1v-6zM873 326v37h1v-37zM885 359v20h1v-20zM903 433v15h1v-15zM911 438v11h1v-11zM917 447v9h1v-9zM923 460v13h1v-13zM927 462v6h1v-6zM929 463v2h1v-2z" fill="#ff0000"/>
<path d="M5 499h2v17h-2zM7 499h2v17h-2zM9 499h2v17h-2zM11 499h2v17h-2zM13 500h2v16h-2zM15 501h2v15h-2zM17 502h2v14h-2zM19 503h2v13h-2zM21 503h2v13h-2zM23 504h2v12h-2zM25 505h2v11h-2zM27 506h2v10h-2zM29 507h2v9h-2zM31 508h2v8h-2zM33 507h2v9h-2zM35 505h2v11h-2zM37 504h2v12h-2zM39 502h2v14h-2zM41 502h2v14h-2zM43 502h2v14h-2zM45 502h2v14h-2zM47 502h2v14h-2zM49 502h2v14h-2zM51 503h2v13h-2zM53 504h2v12h-2zM55 507h2v9h-2zM57 510h2v6h-2zM59 514h2v2h-2zM61 515h2v4h-2zM63 515h2v7h-2zM65 515h2v9h-2zM67 515h2v9h-2zM69 515h2v9h-2zM71 515h2v9h-2zM73 515h2v9h-2zM75 515h2v9h-2zM77 515h2v10h-2zM79 515h2v11h-2zM81 515h2v12h-2zM83 515h2v13h-2zM85 515h2v14h-2zM87 515h2v15h-2zM89 515h2v15h-2zM91 515h2v16h-2zM93 515h2v17h-2zM95 515h2v16h-2zM97 515h2v15h-2zM99 515h2v15h-2zM101 515h2v13h-2zM103 515h2v12h-2zM105 515h2v9h-2zM107 515h2v7h-2zM109 515h2v5h-2zM111 515h2v3h-2zM113 515h2v1h-2zM115 511h2v5h-2zM117 506h2v10h-2zM119 501h2v15h-2zM121 498h2v18h-2zM123 495h2v21h-2zM125 493h2v23h-2zM127 492h2v24h-2zM129 491h2v25h-2zM131 491h2v25h-2zM133 492h2v24h-2zM135 492h2v24h-2zM137 493h2v23h-2zM139 494h2v22h-2zM141 494h2v22h-2zM143 495h2v21h-2zM145 497h2v19h-2zM147 499h2v17h-2zM149 501h2v15h-2zM151 504h2v12h-2zM153 508h2v8h-2zM155 511h2v5h-2zM157 514h2v2h-2zM159 515h2v3h-2zM161 515h2v5h-2zM163 515h2v6h-2zM165 515h2v7h-2zM167 515h2v8h-2zM169 515h2v7h-2zM171 515h2v7h-2zM173 515h2v6h-2zM175 515h2v4h-2zM177 515h2v1h-2zM179 513h2v3h-2zM181 511h2v5h-2zM183 510h2v6h-2zM185 509h2v7h-2zM187 508h2v8h-2zM189 507h2v9h-2zM191 506h2v10h-2zM193 505h2v11h-2zM195 504h2v12h-2zM197 503h2v13h-2zM199 501h2v15h-2zM201 499h2v17h-2zM203 496h2v20h-2zM205 495h2v21h-2zM207 494h2v22h-2zM209 493h2v23h-2zM211 493h2v23h-2zM213 494h2v22h-2zM215 495h2v21h-2zM217 497h2v19h-2zM219 500h2v16h-2zM221 502h2v14h-2zM223 503h2v13h-2zM225 502h2v14h-2zM227 502h2v14h-2zM229 502h2v14h-2zM231 502h2v14h-2zM233 502h2v14h-2zM235 503h2v13h-2zM237 503h2v13h-2zM239 504h2v12h-2zM241 509h2v7h-2zM243 510h2v6h-2zM245 511h2v5h-2zM247 510h2v6h-2zM249 510h2v6h-2zM251 510h2v6h-2zM253 509h2v7h-2zM255 507h2v9h-2zM257 506h2v10h-2zM259 505h2v11h-2zM261 505h2v11h-2zM263 504h2v12h-2zM265 504h2v12h-2zM267 504h2v12h-2zM269 504h2v12h-2zM271 505h2v11h-2zM273 506h2v10h-2zM275 508h2v8h-2zM277 511h2v5h-2zM279 514h2v2h-2zM281 515h2v1h-2zM283 515h2v2h-2zM285 515h2v3h-2zM287 515h2v4h-2zM289 515h2v5h-2zM291 515h2v6h-2zM293 515h2v7h-2zM295 515h2v8h-2zM297 515h2v9h-2zM299 515h2v8h-2zM301 515h2v7h-2zM303 515h2v6h-2zM305 515h2v5h-2zM307 515h2v3h-2zM309 515h2v2h-2zM311 514h2v2h-2zM313 513h2v3h-2zM315 512h2v4h-2zM317 511h2v5h-2zM319 510h2v6h-2zM321 509h2v7h-2zM323 509h2v7h-2zM325 510h2v6h-2zM327 511h2v5h-2zM329 512h2v4h-2zM331 513h2v3h-2zM333 514h2v2h-2zM335 515h2v1h-2zM337 515h2v1h-2zM339 515h2v2h-2zM341 515h2v3h-2zM343 515h2v5h-2zM345 515h2v9h-2zM347 515h2v12h-2zM349 515h2v14h-2zM351 515h2v17h-2zM353 515h2v18h-2zM355 515h2v19h-2zM357 515h2v17h-2zM359 515h2v15h-2zM361 515h2v14h-2zM363 515h2v13h-2zM365 515h2v12h-2zM367 515h2v10h-2zM369 515h2v8h-2zM371 515h2v6h-2zM373 515h2v5h-2zM375 515h2v4h-2zM377 515h2v4h-2zM379 515h2v4h-2zM381 515h2v3h-2zM383 515h2v3h-2zM385 515h2v3h-2zM387 515h2v2h-2zM389 515h2v1h-2zM391 515h2v1h-2zM393 514h2v2h-2zM395 513h2v3h-2zM397 514h2v2h-2zM399 515h2v1h-2zM401 515h2v2h-2zM403 515h2v2h-2zM405 515h2v3h-2zM407 515h2v2h-2zM409 515h2v2h-2zM411 515h2v2h-2zM413 515h2v2h-2zM415 515h2v5h-2zM417 515h2v8h-2zM419 515h2v11h-2zM421 515h2v13h-2zM423 515h2v14h-2zM425 515h2v15h-2zM427 515h2v15h-2zM429 515h2v15h-2zM431 515h2v15h-2zM433 515h2v15h-2zM435 515h2v14h-2zM437 515h2v13h-2zM439 515h2v13h-2zM441 515h2v12h-2zM443 515h2v12h-2zM445 515h2v11h-2zM447 515h2v11h-2zM449 515h2v10h-2zM451 515h2v10h-2zM453 515h2v10h-2zM455 515h2v12h-2zM457 515h2v15h-2zM459 515h2v20h-2zM461 515h2v26h-2zM463 515h2v32h-2zM465 515h2v38h-2zM467 515h2v42h-2zM469 515h2v45h-2zM471 515h2v46h-2zM473 515h2v48h-2zM475 515h2v49h-2zM477 515h2v50h-2zM479 515h2v50h-2zM481 515h2v51h-2zM483 515h2v51h-2zM485 515h2v50h-2zM487 515h2v48h-2zM489 515h2v44h-2zM491 515h2v40h-2zM493 515h2v38h-2zM495 515h2v35h-2zM497 515h2v33h-2zM499 515h2v32h-2zM501 515h2v29h-2zM503 515h2v25h-2zM505 515h2v22h-2zM507 515h2v20h-2zM509 515h2v17h-2zM511 515h2v13h-2zM513 515h2v11h-2zM515 515h2v10h-2zM517 515h2v9h-2zM519 515h2v9h-2zM521 515h2v9h-2zM523 515h2v7h-2zM525 515h2v6h-2zM527 515h2v5h-2zM529 515h2v5h-2zM531 515h2v5h-2zM533 515h2v3h-2zM535 515h2v2h-2zM537 515h2v2h-2zM539 515h2v2h-2zM541 515h2v1h-2zM543 515h2v2h-2zM545 515h2v2h-2zM547 515h2v2h-2zM549 515h2v2h-2zM551 515h2v3h-2zM553 515h2v4h-2zM555 515h2v5h-2zM557 515h2v6h-2zM559 515h2v7h-2zM561 515h2v8h-2zM563 515h2v8h-2zM565 515h2v8h-2zM567 515h2v9h-2zM569 515h2v10h-2zM571 515h2v11h-2zM573 515h2v13h-2zM575 515h2v14h-2zM577 515h2v16h-2zM579 515h2v17h-2zM581 515h2v18h-2zM583 515h2v17h-2zM585 515h2v17h-2zM587 515h2v17h-2zM589 515h2v17h-2zM591 515h2v17h-2zM593 515h2v18h-2zM595 515h2v17h-2zM597 515h2v16h-2zM599 515h2v15h-2zM601 515h2v14h-2zM603 515h2v13h-2zM605 515h2v11h-2zM607 515h2v10h-2zM609 515h2v9h-2zM611 515h2v8h-2zM613 515h2v7h-2zM615 515h2v6h-2zM617 515h2v6h-2zM619 515h2v7h-2zM621 515h2v9h-2zM623 515h2v10h-2zM625 515h2v10h-2zM627 515h2v11h-2zM629 515h2v11h-2zM631 515h2v12h-2zM633 515h2v14h-2zM635 515h2v15h-2zM637 515h2v16h-2zM639 515h2v15h-2zM641 515h2v14h-2zM643 515h2v11h-2zM645 515h2v9h-2zM647 515h2v8h-2zM649 515h2v7h-2zM651 515h2v6h-2zM653 515h2v5h-2zM655 515h2v4h-2zM657 515h2v2h-2zM659 514h2v2h-2zM661 511h2v5h-2zM663 511h2v5h-2zM665 511h2v5h-2zM667 511h2v5h-2zM669 511h2v5h-2zM671 511h2v5h-2zM673 511h2v5h-2zM675 511h2v5h-2zM677 512h2v4h-2zM679 512h2v4h-2zM681 514h2v2h-2zM683 515h2v3h-2zM685 515h2v8h-2zM687 515h2v11h-2zM689 515h2v12h-2zM691 515h2v12h-2zM693 515h2v11h-2zM695 515h2v10h-2zM697 515h2v8h-2zM699 515h2v6h-2zM701 515h2v5h-2zM703 515h2v5h-2zM705 515h2v6h-2zM707 515h2v6h-2zM709 515h2v7h-2zM711 515h2v7h-2zM713 515h2v7h-2zM715 515h2v7h-2zM717 515h2v7h-2zM719 515h2v7h-2zM721 515h2v8h-2zM723 515h2v9h-2zM725 515h2v10h-2zM727 515h2v9h-2zM729 515h2v9h-2zM731 515h2v8h-2zM733 515h2v8h-2zM735 515h2v9h-2zM737 515h2v9h-2zM739 515h2v10h-2zM741 515h2v10h-2zM743 515h2v10h-2zM745 515h2v11h-2zM747 515h2v10h-2zM749 515h2v10h-2zM751 515h2v9h-2zM753 515h2v9h-2zM755 515h2v8h-2zM757 515h2v7h-2zM759 515h2v6h-2zM761 515h2v5h-2zM763 515h2v5h-2zM765 515h2v4h-2zM767 515h2v5h-2zM769 515h2v6h-2zM771 515h2v7h-2zM773 515h2v7h-2zM775 515h2v8h-2zM777 515h2v8h-2zM779 515h2v9h-2zM781 515h2v9h-2zM783 515h2v8h-2zM785 515h2v8h-2zM787 515h2v8h-2zM789 515h2v4h-2zM791 515h2v1h-2zM793 514h2v2h-2zM795 514h2v2h-2zM797 514h2v2h-2zM799 513h2v3h-2zM801 511h2v5h-2zM803 510h2v6h-2zM805 510h2v6h-2zM807 509h2v7h-2zM809 509h2v7h-2zM811 510h2v6h-2zM813 509h2v7h-2zM815 509h2v7h-2zM817 508h2v8h-2zM819 505h2v11h-2zM821 503h2v13h-2zM823 501h2v15h-2zM825 499h2v17h-2zM827 498h2v18h-2zM829 498h2v18h-2zM831 498h2v18h-2zM833 498h2v18h-2zM835 498h2v18h-2zM837 498h2v18h-2zM839 499h2v17h-2zM841 500h2v16h-2zM843 500h2v16h-2zM845 501h2v15h-2zM847 502h2v14h-2zM849 503h2v13h-2zM851 503h2v13h-2zM853 504h2v12h-2zM855 505h2v11h-2zM857 506h2v10h-2zM859 507h2v9h-2zM861 508h2v8h-2zM863 509h2v7h-2zM865 510h2v6h-2zM867 510h2v6h-2zM869 511h2v5h-2zM871 512h2v4h-2zM873 513h2v3h-2zM875 515h2v1h-2zM877 515h2v2h-2zM879 515h2v3h-2zM881 515h2v4h-2zM883 515h2v5h-2zM885 515h2v6h-2zM887 515h2v6h-2zM889 515h2v7h-2zM891 515h2v8h-2zM893 515h2v10h-2zM895 515h2v11h-2zM897 515h2v14h-2zM899 515h2v17h-2zM901 515h2v19h-2zM903 515h2v20h-2zM905 515h2v21h-2zM907 515h2v22h-2zM909 515h2v22h-2zM911 515h2v23h-2zM913 515h2v23h-2zM915 515h2v24h-2zM917 515h2v25h-2zM919 515h2v25h-2zM921 515h2v26h-2zM923 515h2v25h-2zM925 515h2v25h-2zM927 515h2v25h-2zM929 515h2v25h-2z" fill="#c0c0c0"/>
<path d="M86 525h2v1h-2zM110 525h1v1h-1zM356 525h1v1h-1zM374 525h1v1h-1zM431 525h1v1h-1zM448 525h4v1h-4zM458 525h2v1h-2zM524 525h1v1h-1zM578 525h2v1h-2zM616 525h1v1h-1zM636 525h2v1h-2zM652 525h2v1h-2zM902 525h1v1h-1zM64 510h1v1h-1zM123 510h1v1h-1zM165 510h1v1h-1zM194 510h2v1h-2zM284 510h2v1h-2zM816 510h2v1h-2zM876 510h2v1h-2zM73 519h1v1h-1zM117 519h1v1h-1zM173 519h1v1h-1zM178 519h4v1h-4zM298 519h2v1h-2zM312 519h2v1h-2zM349 519h1v1h-1zM384 519h2v1h-2zM422 519h2v1h-2zM536 519h2v1h-2zM560 519h4v1h-4zM661 519h1v1h-1zM692 519h1v1h-1zM772 519h2v1h-2zM794 519h2v1h-2zM894 519h2v1h-2zM82 524h4v1h-4zM111 524h1v1h-1zM355 524h1v1h-1zM375 524h1v1h-1zM430 524h1v1h-1zM452 524h6v1h-6zM525 524h1v1h-1zM576 524h2v1h-2zM617 524h1v1h-1zM634 524h2v1h-2zM654 524h2v1h-2zM700 524h2v1h-2zM750 524h6v1h-6zM901 524h1v1h-1zM76 521h2v1h-2zM115 521h1v1h-1zM352 521h1v1h-1zM380 521h1v1h-1zM425 521h1v1h-1zM530 521h2v1h-2zM570 521h2v1h-2zM658 521h2v1h-2zM694 521h2v1h-2zM708 521h10v1h-10zM720 521h6v1h-6zM764 521h2v1h-2zM780 521h10v1h-10zM898 521h1v1h-1zM132 498h1v1h-1zM153 498h1v1h-1zM212 498h2v1h-2zM224 498h2v1h-2zM466 531h1v1h-1zM518 531h1v1h-1zM590 531h6v1h-6zM598 531h6v1h-6zM909 531h1v1h-1zM5 505h1v1h-1zM30 505h2v1h-2zM40 505h4v1h-4zM58 505h2v1h-2zM126 505h1v1h-1zM160 505h1v1h-1zM202 505h2v1h-2zM242 505h4v1h-4zM272 505h6v1h-6zM828 505h1v1h-1zM862 505h2v1h-2zM96 529h8v1h-8zM362 529h2v1h-2zM366 529h4v1h-4zM465 529h1v1h-1zM520 529h1v1h-1zM585 529h3v1h-3zM608 529h2v1h-2zM907 529h1v1h-1zM78 522h2v1h-2zM114 522h1v1h-1zM353 522h1v1h-1zM378 522h2v1h-2zM426 522h2v1h-2zM528 522h2v1h-2zM572 522h2v1h-2zM624 522h2v1h-2zM657 522h1v1h-1zM696 522h2v1h-2zM706 522h2v1h-2zM726 522h16v1h-16zM760 522h4v1h-4zM899 522h1v1h-1zM70 516h1v1h-1zM119 516h1v1h-1zM170 516h1v1h-1zM186 516h2v1h-2zM292 516h2v1h-2zM318 516h1v1h-1zM346 516h1v1h-1zM390 516h6v1h-6zM398 516h14v1h-14zM414 516h4v1h-4zM546 516h6v1h-6zM665 516h1v1h-1zM688 516h1v1h-1zM800 516h2v1h-2zM888 516h2v1h-2zM80 523h2v1h-2zM112 523h2v1h-2zM354 523h1v1h-1zM376 523h2v1h-2zM428 523h2v1h-2zM526 523h2v1h-2zM574 523h2v1h-2zM618 523h6v1h-6zM626 523h8v1h-8zM656 523h1v1h-1zM698 523h2v1h-2zM702 523h4v1h-4zM742 523h8v1h-8zM756 523h4v1h-4zM900 523h1v1h-1zM467 532h1v1h-1zM517 532h1v1h-1zM596 532h2v1h-2zM910 532h2v1h-2zM74 520h2v1h-2zM116 520h1v1h-1zM174 520h4v1h-4zM300 520h12v1h-12zM350 520h2v1h-2zM381 520h3v1h-3zM424 520h1v1h-1zM532 520h4v1h-4zM564 520h6v1h-6zM660 520h1v1h-1zM693 520h1v1h-1zM718 520h2v1h-2zM766 520h6v1h-6zM774 520h6v1h-6zM790 520h4v1h-4zM896 520h2v1h-2zM8 503h2v1h-2zM24 503h4v1h-4zM48 503h8v1h-8zM128 503h1v1h-1zM159 503h1v1h-1zM205 503h1v1h-1zM238 503h2v1h-2zM830 503h2v1h-2zM856 503h2v1h-2zM69 515h1v1h-1zM120 515h1v1h-1zM169 515h1v1h-1zM188 515h2v1h-2zM291 515h1v1h-1zM319 515h1v1h-1zM344 515h2v1h-2zM396 515h2v1h-2zM412 515h2v1h-2zM666 515h2v1h-2zM686 515h2v1h-2zM802 515h2v1h-2zM886 515h2v1h-2zM62 508h1v1h-1zM124 508h1v1h-1zM163 508h1v1h-1zM197 508h1v1h-1zM250 508h2v1h-2zM262 508h2v1h-2zM282 508h1v1h-1zM822 508h2v1h-2zM870 508h4v1h-4zM65 511h1v1h-1zM122 511h1v1h-1zM166 511h1v1h-1zM193 511h1v1h-1zM286 511h1v1h-1zM326 511h10v1h-10zM812 511h4v1h-4zM878 511h2v1h-2zM364 530h2v1h-2zM466 530h1v1h-1zM519 530h1v1h-1zM588 530h2v1h-2zM604 530h4v1h-4zM908 530h1v1h-1zM484 561h1v1h-1zM492 561h2v1h-2zM88 526h2v1h-2zM108 526h2v1h-2zM357 526h1v1h-1zM372 526h2v1h-2zM432 526h2v1h-2zM446 526h2v1h-2zM460 526h2v1h-2zM523 526h1v1h-1zM580 526h2v1h-2zM614 526h2v1h-2zM638 526h2v1h-2zM650 526h2v1h-2zM903 526h1v1h-1zM12 501h10v1h-10zM130 501h1v1h-1zM157 501h1v1h-1zM208 501h1v1h-1zM232 501h4v1h-4zM834 501h2v1h-2zM850 501h2v1h-2zM71 517h1v1h-1zM118 517h1v1h-1zM171 517h1v1h-1zM184 517h2v1h-2zM294 517h2v1h-2zM316 517h2v1h-2zM347 517h1v1h-1zM388 517h2v1h-2zM418 517h2v1h-2zM542 517h4v1h-4zM552 517h6v1h-6zM664 517h1v1h-1zM689 517h1v1h-1zM798 517h2v1h-2zM890 517h2v1h-2zM469 538h1v1h-1zM512 538h1v1h-1zM922 538h7v1h-7zM32 506h2v1h-2zM36 506h4v1h-4zM60 506h1v1h-1zM126 506h1v1h-1zM161 506h1v1h-1zM200 506h2v1h-2zM246 506h2v1h-2zM268 506h4v1h-4zM278 506h2v1h-2zM826 506h2v1h-2zM864 506h4v1h-4zM132 497h1v1h-1zM152 497h1v1h-1zM214 497h1v1h-1zM222 497h2v1h-2zM474 548h1v1h-1zM504 548h1v1h-1zM66 512h1v1h-1zM122 512h1v1h-1zM166 512h1v1h-1zM192 512h1v1h-1zM287 512h1v1h-1zM324 512h2v1h-2zM336 512h2v1h-2zM674 512h8v1h-8zM808 512h4v1h-4zM880 512h2v1h-2zM63 509h1v1h-1zM124 509h1v1h-1zM164 509h1v1h-1zM196 509h1v1h-1zM252 509h10v1h-10zM283 509h1v1h-1zM818 509h4v1h-4zM874 509h2v1h-2zM34 507h2v1h-2zM61 507h1v1h-1zM125 507h1v1h-1zM162 507h1v1h-1zM198 507h2v1h-2zM248 507h2v1h-2zM264 507h4v1h-4zM280 507h2v1h-2zM824 507h2v1h-2zM868 507h2v1h-2zM68 514h1v1h-1zM120 514h1v1h-1zM168 514h1v1h-1zM190 514h1v1h-1zM290 514h1v1h-1zM320 514h2v1h-2zM342 514h2v1h-2zM668 514h2v1h-2zM684 514h2v1h-2zM804 514h2v1h-2zM884 514h2v1h-2zM90 527h4v1h-4zM106 527h2v1h-2zM358 527h2v1h-2zM371 527h1v1h-1zM434 527h2v1h-2zM442 527h4v1h-4zM462 527h2v1h-2zM522 527h1v1h-1zM582 527h2v1h-2zM612 527h2v1h-2zM640 527h10v1h-10zM904 527h2v1h-2zM136 494h12v1h-12zM130 500h1v1h-1zM156 500h1v1h-1zM209 500h1v1h-1zM228 500h4v1h-4zM836 500h14v1h-14zM94 528h2v1h-2zM104 528h2v1h-2zM360 528h2v1h-2zM370 528h1v1h-1zM436 528h6v1h-6zM464 528h1v1h-1zM521 528h1v1h-1zM584 528h1v1h-1zM610 528h2v1h-2zM906 528h1v1h-1zM72 518h1v1h-1zM118 518h1v1h-1zM172 518h1v1h-1zM182 518h2v1h-2zM296 518h2v1h-2zM314 518h2v1h-2zM348 518h1v1h-1zM386 518h2v1h-2zM420 518h2v1h-2zM538 518h4v1h-4zM558 518h2v1h-2zM662 518h2v1h-2zM690 518h2v1h-2zM796 518h2v1h-2zM892 518h2v1h-2zM485 562h3v1h-3zM490 562h2v1h-2zM67 513h1v1h-1zM121 513h1v1h-1zM167 513h1v1h-1zM191 513h1v1h-1zM288 513h2v1h-2zM322 513h2v1h-2zM338 513h4v1h-4zM670 513h4v1h-4zM682 513h2v1h-2zM806 513h2v1h-2zM882 513h2v1h-2zM480 558h1v1h-1zM496 558h2v1h-2zM488 563h2v1h-2zM477 553h1v1h-1zM501 553h1v1h-1zM473 546h1v1h-1zM506 546h1v1h-1zM481 559h1v1h-1zM495 559h1v1h-1zM474 547h1v1h-1zM505 547h1v1h-1zM131 499h1v1h-1zM154 499h2v1h-2zM210 499h2v1h-2zM226 499h2v1h-2zM10 502h2v1h-2zM22 502h2v1h-2zM129 502h1v1h-1zM158 502h1v1h-1zM206 502h2v1h-2zM236 502h2v1h-2zM832 502h2v1h-2zM852 502h4v1h-4zM133 496h1v1h-1zM150 496h2v1h-2zM215 496h1v1h-1zM218 496h4v1h-4zM468 534h1v1h-1zM515 534h1v1h-1zM914 534h2v1h-2zM478 554h1v1h-1zM500 554h1v1h-1zM470 540h1v1h-1zM510 540h1v1h-1zM6 504h2v1h-2zM28 504h2v1h-2zM44 504h4v1h-4zM56 504h2v1h-2zM127 504h1v1h-1zM160 504h1v1h-1zM204 504h1v1h-1zM240 504h2v1h-2zM829 504h1v1h-1zM858 504h4v1h-4zM473 545h1v1h-1zM507 545h1v1h-1zM475 550h1v1h-1zM503 550h1v1h-1zM476 551h1v1h-1zM502 551h1v1h-1zM134 495h2v1h-2zM148 495h2v1h-2zM216 495h2v1h-2zM480 557h1v1h-1zM498 557h1v1h-1zM469 537h1v1h-1zM513 537h1v1h-1zM920 537h2v1h-2zM468 535h1v1h-1zM514 535h1v1h-1zM916 535h2v1h-2zM479 556h1v1h-1zM498 556h1v1h-1zM472 544h1v1h-1zM508 544h1v1h-1zM475 549h1v1h-1zM504 549h1v1h-1zM467 533h1v1h-1zM516 533h1v1h-1zM912 533h2v1h-2zM469 536h1v1h-1zM514 536h1v1h-1zM918 536h2v1h-2zM476 552h1v1h-1zM502 552h1v1h-1zM471 542h1v1h-1zM509 542h1v1h-1zM472 543h1v1h-1zM508 543h1v1h-1zM482 560h2v1h-2zM494 560h1v1h-1zM471 541h1v1h-1zM510 541h1v1h-1zM470 539h1v1h-1zM511 539h1v1h-1zM478 555h1v1h-1zM499 555h1v1h-1z" fill="#ff0000"/>
<path d="M6 598.5H1167M6 632.5H1167" stroke="#c0c0c0" stroke-width="1" stroke-dasharray="3 3" fill="none"/>
<path d="M461 641h1v1h-1zM475 641h2v1h-2zM479 641h3v1h-3zM484 641h1v1h-1zM345 630h1v1h-1zM355 630h1v1h-1zM418 630h1v1h-1zM424 630h1v1h-1zM456 630h1v1h-1zM487 630h1v1h-1zM496 630h2v1h-2zM499 630h1v1h-1zM574 630h1v1h-1zM576 630h1v1h-1zM578 630h2v1h-2zM581 630h1v1h-1zM595 630h1v1h-1zM638 630h2v1h-2zM685 630h2v1h-2zM895 630h1v1h-1zM31 614h1v1h-1zM54 614h1v1h-1zM103 614h1v1h-1zM149 614h3v1h-3zM174 614h1v1h-1zM217 614h1v1h-1zM222 614h1v1h-1zM236 614h1v1h-1zM245 614h1v1h-1zM274 614h1v1h-1zM308 614h1v1h-1zM327 614h3v1h-3zM370 614h1v1h-1zM376 614h1v1h-1zM382 614h2v1h-2zM391 614h1v1h-1zM395 614h1v1h-1zM410 614h1v1h-1zM413 614h1v1h-1zM511 614h1v1h-1zM515 614h1v1h-1zM524 614h2v1h-2zM532 614h2v1h-2zM535 614h1v1h-1zM539 614h1v1h-1zM616 614h2v1h-2zM644 614h1v1h-1zM647 614h3v1h-3zM654 614h1v1h-1zM666 614h1v1h-1zM668 614h1v1h-1zM676 614h1v1h-1zM700 614h1v1h-1zM703 614h1v1h-1zM763 614h1v1h-1zM765 614h1v1h-1zM787 614h1v1h-1zM798 614h1v1h-1zM800 614h1v1h-1zM812 614h1v1h-1zM814 614h1v1h-1zM862 614h1v1h-1zM865 614h2v1h-2zM870 614h1v1h-1zM872 614h1v1h-1zM874 614h1v1h-1zM57 621h1v1h-1zM66 621h1v1h-1zM76 621h1v1h-1zM101 621h1v1h-1zM154 621h1v1h-1zM164 621h1v1h-1zM167 621h2v1h-2zM277 621h1v1h-1zM281 621h2v1h-2zM290 621h1v1h-1zM295 621h1v1h-1zM298 621h1v1h-1zM331 621h1v1h-1zM342 621h1v1h-1zM356 621h1v1h-1zM415 621h1v1h-1zM437 621h1v1h-1zM440 621h1v1h-1zM442 621h1v1h-1zM444 621h1v1h-1zM446 621h2v1h-2zM453 621h1v1h-1zM503 621h1v1h-1zM556 621h2v1h-2zM565 621h3v1h-3zM585 621h1v1h-1zM599 621h1v1h-1zM619 621h1v1h-1zM643 621h1v1h-1zM681 621h1v1h-1zM692 621h1v1h-1zM706 621h2v1h-2zM711 621h1v1h-1zM717 621h1v1h-1zM723 621h1v1h-1zM728 621h1v1h-1zM735 621h1v1h-1zM738 621h1v1h-1zM740 621h1v1h-1zM745 621h1v1h-1zM751 621h1v1h-1zM767 621h4v1h-4zM780 621h1v1h-1zM877 621h6v1h-6zM886 621h1v1h-1zM888 621h1v1h-1zM55 617h1v1h-1zM68 617h1v1h-1zM71 617h2v1h-2zM102 617h1v1h-1zM152 617h1v1h-1zM171 617h3v1h-3zM237 617h1v1h-1zM240 617h2v1h-2zM244 617h1v1h-1zM275 617h1v1h-1zM300 617h1v1h-1zM304 617h1v1h-1zM307 617h1v1h-1zM330 617h1v1h-1zM334 617h1v1h-1zM339 617h1v1h-1zM357 617h1v1h-1zM360 617h1v1h-1zM367 617h1v1h-1zM399 617h1v1h-1zM404 617h1v1h-1zM406 617h1v1h-1zM408 617h2v1h-2zM414 617h1v1h-1zM505 617h2v1h-2zM509 617h1v1h-1zM516 617h1v1h-1zM522 617h1v1h-1zM527 617h2v1h-2zM541 617h1v1h-1zM545 617h2v1h-2zM548 617h1v1h-1zM550 617h1v1h-1zM552 617h1v1h-1zM605 617h1v1h-1zM609 617h3v1h-3zM618 617h1v1h-1zM644 617h1v1h-1zM678 617h1v1h-1zM693 617h1v1h-1zM704 617h1v1h-1zM715 617h1v1h-1zM754 617h1v1h-1zM766 617h1v1h-1zM786 617h1v1h-1zM799 617h1v1h-1zM813 617h2v1h-2zM875 617h1v1h-1zM14 608h1v1h-1zM22 608h2v1h-2zM26 608h1v1h-1zM36 608h1v1h-1zM44 608h1v1h-1zM47 608h1v1h-1zM51 608h2v1h-2zM105 608h1v1h-1zM114 608h1v1h-1zM147 608h1v1h-1zM177 608h1v1h-1zM179 608h3v1h-3zM184 608h1v1h-1zM189 608h2v1h-2zM214 608h1v1h-1zM226 608h1v1h-1zM235 608h1v1h-1zM256 608h2v1h-2zM262 608h1v1h-1zM264 608h2v1h-2zM271 608h1v1h-1zM311 608h3v1h-3zM318 608h1v1h-1zM324 608h1v1h-1zM393 608h1v1h-1zM537 608h1v1h-1zM660 608h1v1h-1zM662 608h1v1h-1zM790 608h1v1h-1zM792 608h2v1h-2zM801 608h1v1h-1zM808 608h2v1h-2zM816 608h1v1h-1zM839 608h1v1h-1zM845 608h1v1h-1zM850 608h1v1h-1zM858 608h2v1h-2zM873 608h1v1h-1zM8 604h1v1h-1zM12 604h2v1h-2zM36 604h1v1h-1zM43 604h1v1h-1zM116 604h1v1h-1zM134 604h1v1h-1zM138 604h1v1h-1zM145 604h1v1h-1zM187 604h1v1h-1zM196 604h1v1h-1zM211 604h1v1h-1zM258 604h1v1h-1zM260 604h1v1h-1zM818 604h2v1h-2zM837 604h1v1h-1zM55 616h1v1h-1zM69 616h2v1h-2zM102 616h1v1h-1zM152 616h1v1h-1zM173 616h1v1h-1zM237 616h1v1h-1zM244 616h1v1h-1zM274 616h1v1h-1zM301 616h2v1h-2zM304 616h1v1h-1zM307 616h1v1h-1zM330 616h1v1h-1zM335 616h2v1h-2zM338 616h1v1h-1zM357 616h3v1h-3zM368 616h1v1h-1zM379 616h1v1h-1zM385 616h2v1h-2zM397 616h2v1h-2zM405 616h1v1h-1zM409 616h1v1h-1zM414 616h1v1h-1zM505 616h1v1h-1zM510 616h1v1h-1zM516 616h1v1h-1zM523 616h1v1h-1zM526 616h1v1h-1zM529 616h2v1h-2zM541 616h1v1h-1zM547 616h1v1h-1zM551 616h1v1h-1zM606 616h1v1h-1zM608 616h1v1h-1zM612 616h4v1h-4zM618 616h1v1h-1zM644 616h1v1h-1zM652 616h2v1h-2zM667 616h1v1h-1zM677 616h1v1h-1zM694 616h2v1h-2zM698 616h2v1h-2zM704 616h1v1h-1zM755 616h1v1h-1zM760 616h2v1h-2zM766 616h1v1h-1zM786 616h1v1h-1zM798 616h2v1h-2zM812 616h1v1h-1zM814 616h1v1h-1zM863 616h1v1h-1zM871 616h1v1h-1zM874 616h1v1h-1zM55 618h1v1h-1zM68 618h1v1h-1zM73 618h1v1h-1zM102 618h1v1h-1zM152 618h1v1h-1zM165 618h1v1h-1zM169 618h2v1h-2zM238 618h2v1h-2zM242 618h2v1h-2zM275 618h1v1h-1zM299 618h1v1h-1zM305 618h3v1h-3zM330 618h1v1h-1zM333 618h1v1h-1zM340 618h1v1h-1zM357 618h1v1h-1zM361 618h2v1h-2zM367 618h1v1h-1zM400 618h2v1h-2zM404 618h1v1h-1zM407 618h1v1h-1zM414 618h1v1h-1zM449 618h1v1h-1zM504 618h1v1h-1zM506 618h1v1h-1zM508 618h1v1h-1zM517 618h1v1h-1zM522 618h1v1h-1zM527 618h1v1h-1zM542 618h1v1h-1zM544 618h1v1h-1zM549 618h1v1h-1zM553 618h1v1h-1zM605 618h1v1h-1zM618 618h1v1h-1zM643 618h1v1h-1zM678 618h1v1h-1zM693 618h1v1h-1zM704 618h1v1h-1zM714 618h1v1h-1zM716 618h1v1h-1zM719 618h3v1h-3zM729 618h5v1h-5zM754 618h1v1h-1zM766 618h1v1h-1zM785 618h1v1h-1zM799 618h1v1h-1zM813 618h1v1h-1zM875 618h1v1h-1zM55 615h1v1h-1zM69 615h1v1h-1zM102 615h1v1h-1zM149 615h1v1h-1zM152 615h1v1h-1zM174 615h1v1h-1zM217 615h5v1h-5zM237 615h1v1h-1zM245 615h1v1h-1zM274 615h1v1h-1zM303 615h1v1h-1zM308 615h1v1h-1zM329 615h1v1h-1zM337 615h1v1h-1zM369 615h1v1h-1zM377 615h2v1h-2zM380 615h2v1h-2zM384 615h1v1h-1zM387 615h5v1h-5zM396 615h1v1h-1zM410 615h1v1h-1zM414 615h1v1h-1zM510 615h1v1h-1zM515 615h1v1h-1zM524 615h1v1h-1zM526 615h1v1h-1zM531 615h1v1h-1zM534 615h2v1h-2zM540 615h1v1h-1zM607 615h1v1h-1zM616 615h2v1h-2zM644 615h1v1h-1zM647 615h1v1h-1zM650 615h2v1h-2zM654 615h1v1h-1zM667 615h1v1h-1zM677 615h1v1h-1zM696 615h2v1h-2zM700 615h1v1h-1zM704 615h1v1h-1zM755 615h5v1h-5zM762 615h1v1h-1zM766 615h1v1h-1zM787 615h1v1h-1zM798 615h1v1h-1zM800 615h1v1h-1zM812 615h1v1h-1zM814 615h1v1h-1zM862 615h1v1h-1zM864 615h1v1h-1zM871 615h1v1h-1zM874 615h1v1h-1zM56 620h1v1h-1zM67 620h1v1h-1zM75 620h1v1h-1zM102 620h1v1h-1zM153 620h1v1h-1zM164 620h1v1h-1zM166 620h1v1h-1zM168 620h1v1h-1zM276 620h1v1h-1zM283 620h2v1h-2zM290 620h1v1h-1zM299 620h1v1h-1zM331 620h2v1h-2zM341 620h1v1h-1zM357 620h1v1h-1zM364 620h2v1h-2zM415 620h1v1h-1zM441 620h1v1h-1zM445 620h1v1h-1zM448 620h1v1h-1zM452 620h1v1h-1zM503 620h1v1h-1zM555 620h1v1h-1zM600 620h1v1h-1zM602 620h2v1h-2zM619 620h1v1h-1zM643 620h1v1h-1zM680 620h1v1h-1zM692 620h1v1h-1zM705 620h1v1h-1zM708 620h1v1h-1zM710 620h1v1h-1zM712 620h1v1h-1zM717 620h2v1h-2zM722 620h1v1h-1zM729 620h1v1h-1zM734 620h1v1h-1zM739 620h1v1h-1zM752 620h1v1h-1zM767 620h1v1h-1zM781 620h1v1h-1zM876 620h1v1h-1zM887 620h1v1h-1zM59 626h1v1h-1zM64 626h1v1h-1zM79 626h2v1h-2zM91 626h2v1h-2zM94 626h2v1h-2zM297 626h1v1h-1zM344 626h1v1h-1zM356 626h1v1h-1zM416 626h1v1h-1zM426 626h1v1h-1zM456 626h1v1h-1zM493 626h1v1h-1zM501 626h1v1h-1zM572 626h1v1h-1zM583 626h1v1h-1zM589 626h2v1h-2zM596 626h1v1h-1zM623 626h1v1h-1zM632 626h1v1h-1zM641 626h1v1h-1zM684 626h1v1h-1zM689 626h2v1h-2zM727 626h1v1h-1zM894 626h1v1h-1zM14 607h1v1h-1zM24 607h2v1h-2zM36 607h1v1h-1zM44 607h1v1h-1zM48 607h1v1h-1zM50 607h1v1h-1zM115 607h1v1h-1zM146 607h1v1h-1zM177 607h2v1h-2zM185 607h1v1h-1zM188 607h1v1h-1zM191 607h2v1h-2zM214 607h1v1h-1zM227 607h1v1h-1zM234 607h1v1h-1zM257 607h1v1h-1zM262 607h1v1h-1zM266 607h2v1h-2zM270 607h1v1h-1zM319 607h2v1h-2zM323 607h1v1h-1zM661 607h1v1h-1zM791 607h1v1h-1zM802 607h1v1h-1zM806 607h2v1h-2zM816 607h1v1h-1zM839 607h1v1h-1zM846 607h1v1h-1zM849 607h1v1h-1zM346 631h1v1h-1zM351 631h1v1h-1zM355 631h1v1h-1zM419 631h2v1h-2zM422 631h2v1h-2zM456 631h1v1h-1zM487 631h1v1h-1zM498 631h2v1h-2zM575 631h2v1h-2zM580 631h2v1h-2zM639 631h1v1h-1zM685 631h1v1h-1zM895 631h1v1h-1zM18 612h2v1h-2zM28 612h1v1h-1zM33 612h2v1h-2zM54 612h1v1h-1zM103 612h1v1h-1zM107 612h1v1h-1zM148 612h1v1h-1zM175 612h1v1h-1zM216 612h1v1h-1zM223 612h1v1h-1zM236 612h1v1h-1zM246 612h1v1h-1zM250 612h2v1h-2zM273 612h1v1h-1zM308 612h1v1h-1zM325 612h1v1h-1zM371 612h1v1h-1zM374 612h1v1h-1zM392 612h1v1h-1zM394 612h1v1h-1zM411 612h1v1h-1zM512 612h1v1h-1zM514 612h1v1h-1zM536 612h1v1h-1zM538 612h1v1h-1zM645 612h2v1h-2zM655 612h1v1h-1zM666 612h1v1h-1zM669 612h2v1h-2zM673 612h3v1h-3zM765 612h1v1h-1zM788 612h1v1h-1zM797 612h1v1h-1zM800 612h1v1h-1zM812 612h1v1h-1zM815 612h1v1h-1zM841 612h1v1h-1zM861 612h1v1h-1zM868 612h2v1h-2zM872 612h1v1h-1zM874 612h1v1h-1zM61 628h3v1h-3zM345 628h1v1h-1zM356 628h1v1h-1zM417 628h1v1h-1zM425 628h1v1h-1zM456 628h1v1h-1zM490 628h2v1h-2zM494 628h1v1h-1zM500 628h1v1h-1zM573 628h1v1h-1zM582 628h1v1h-1zM594 628h1v1h-1zM596 628h1v1h-1zM633 628h2v1h-2zM640 628h1v1h-1zM684 628h1v1h-1zM687 628h1v1h-1zM894 628h1v1h-1zM16 611h2v1h-2zM20 611h1v1h-1zM27 611h1v1h-1zM35 611h1v1h-1zM54 611h1v1h-1zM103 611h1v1h-1zM107 611h2v1h-2zM148 611h1v1h-1zM175 611h1v1h-1zM215 611h1v1h-1zM224 611h1v1h-1zM236 611h1v1h-1zM247 611h3v1h-3zM252 611h1v1h-1zM273 611h1v1h-1zM309 611h1v1h-1zM324 611h1v1h-1zM372 611h1v1h-1zM374 611h1v1h-1zM392 611h1v1h-1zM394 611h1v1h-1zM512 611h2v1h-2zM536 611h1v1h-1zM538 611h1v1h-1zM645 611h1v1h-1zM656 611h1v1h-1zM665 611h1v1h-1zM669 611h1v1h-1zM788 611h1v1h-1zM797 611h1v1h-1zM800 611h1v1h-1zM811 611h1v1h-1zM815 611h1v1h-1zM841 611h2v1h-2zM853 611h1v1h-1zM860 611h1v1h-1zM872 611h1v1h-1zM874 611h1v1h-1zM58 623h1v1h-1zM65 623h1v1h-1zM77 623h1v1h-1zM85 623h3v1h-3zM100 623h2v1h-2zM156 623h1v1h-1zM161 623h3v1h-3zM279 623h1v1h-1zM292 623h1v1h-1zM294 623h1v1h-1zM296 623h1v1h-1zM298 623h1v1h-1zM343 623h1v1h-1zM356 623h1v1h-1zM416 623h1v1h-1zM428 623h1v1h-1zM431 623h3v1h-3zM436 623h1v1h-1zM439 623h1v1h-1zM455 623h1v1h-1zM502 623h1v1h-1zM559 623h1v1h-1zM562 623h1v1h-1zM569 623h3v1h-3zM584 623h1v1h-1zM587 623h1v1h-1zM597 623h1v1h-1zM620 623h1v1h-1zM629 623h3v1h-3zM642 623h1v1h-1zM682 623h1v1h-1zM692 623h1v1h-1zM725 623h1v1h-1zM728 623h1v1h-1zM737 623h1v1h-1zM740 623h1v1h-1zM743 623h1v1h-1zM747 623h2v1h-2zM750 623h1v1h-1zM777 623h3v1h-3zM890 623h2v1h-2zM9 606h1v1h-1zM14 606h1v1h-1zM36 606h1v1h-1zM44 606h1v1h-1zM49 606h1v1h-1zM115 606h1v1h-1zM135 606h1v1h-1zM146 606h1v1h-1zM185 606h1v1h-1zM188 606h1v1h-1zM193 606h3v1h-3zM213 606h1v1h-1zM228 606h1v1h-1zM234 606h1v1h-1zM258 606h1v1h-1zM261 606h1v1h-1zM268 606h1v1h-1zM270 606h1v1h-1zM321 606h3v1h-3zM802 606h1v1h-1zM804 606h2v1h-2zM817 606h1v1h-1zM838 606h1v1h-1zM846 606h1v1h-1zM848 606h1v1h-1zM58 624h1v1h-1zM65 624h1v1h-1zM78 624h1v1h-1zM83 624h2v1h-2zM88 624h2v1h-2zM98 624h2v1h-2zM157 624h4v1h-4zM293 624h1v1h-1zM296 624h1v1h-1zM298 624h1v1h-1zM344 624h1v1h-1zM356 624h1v1h-1zM416 624h1v1h-1zM427 624h1v1h-1zM434 624h2v1h-2zM455 624h1v1h-1zM501 624h1v1h-1zM560 624h1v1h-1zM562 624h1v1h-1zM571 624h1v1h-1zM584 624h1v1h-1zM587 624h1v1h-1zM597 624h1v1h-1zM621 624h1v1h-1zM626 624h3v1h-3zM631 624h1v1h-1zM642 624h1v1h-1zM683 624h1v1h-1zM691 624h1v1h-1zM725 624h1v1h-1zM728 624h1v1h-1zM741 624h2v1h-2zM749 624h1v1h-1zM892 624h2v1h-2zM347 634h1v1h-1zM353 634h1v1h-1zM457 634h1v1h-1zM486 634h1v1h-1zM896 634h1v1h-1zM57 622h1v1h-1zM66 622h1v1h-1zM77 622h1v1h-1zM101 622h1v1h-1zM155 622h1v1h-1zM163 622h1v1h-1zM167 622h1v1h-1zM278 622h1v1h-1zM280 622h1v1h-1zM291 622h1v1h-1zM294 622h2v1h-2zM298 622h1v1h-1zM343 622h1v1h-1zM356 622h1v1h-1zM415 622h1v1h-1zM429 622h2v1h-2zM436 622h1v1h-1zM438 622h1v1h-1zM440 622h1v1h-1zM443 622h1v1h-1zM454 622h2v1h-2zM502 622h1v1h-1zM558 622h1v1h-1zM563 622h2v1h-2zM568 622h1v1h-1zM585 622h2v1h-2zM598 622h1v1h-1zM619 622h1v1h-1zM642 622h1v1h-1zM681 622h1v1h-1zM692 622h1v1h-1zM724 622h1v1h-1zM728 622h1v1h-1zM736 622h1v1h-1zM738 622h1v1h-1zM740 622h1v1h-1zM744 622h1v1h-1zM746 622h1v1h-1zM751 622h1v1h-1zM767 622h1v1h-1zM771 622h6v1h-6zM780 622h1v1h-1zM883 622h3v1h-3zM889 622h1v1h-1zM15 610h1v1h-1zM20 610h1v1h-1zM27 610h1v1h-1zM35 610h1v1h-1zM45 610h1v1h-1zM53 610h1v1h-1zM104 610h1v1h-1zM106 610h1v1h-1zM109 610h2v1h-2zM112 610h2v1h-2zM148 610h1v1h-1zM176 610h1v1h-1zM215 610h1v1h-1zM224 610h1v1h-1zM235 610h1v1h-1zM247 610h1v1h-1zM253 610h1v1h-1zM272 610h1v1h-1zM309 610h1v1h-1zM315 610h1v1h-1zM324 610h1v1h-1zM373 610h1v1h-1zM392 610h1v1h-1zM394 610h1v1h-1zM513 610h1v1h-1zM536 610h1v1h-1zM538 610h1v1h-1zM657 610h2v1h-2zM665 610h1v1h-1zM789 610h1v1h-1zM796 610h1v1h-1zM801 610h1v1h-1zM811 610h1v1h-1zM815 610h1v1h-1zM840 610h1v1h-1zM843 610h1v1h-1zM852 610h1v1h-1zM854 610h2v1h-2zM860 610h1v1h-1zM873 610h1v1h-1zM29 613h2v1h-2zM32 613h1v1h-1zM54 613h1v1h-1zM103 613h1v1h-1zM148 613h1v1h-1zM151 613h1v1h-1zM174 613h1v1h-1zM216 613h1v1h-1zM222 613h1v1h-1zM236 613h1v1h-1zM246 613h1v1h-1zM274 613h1v1h-1zM308 613h1v1h-1zM325 613h2v1h-2zM371 613h1v1h-1zM375 613h1v1h-1zM392 613h1v1h-1zM395 613h1v1h-1zM411 613h3v1h-3zM511 613h1v1h-1zM514 613h1v1h-1zM525 613h1v1h-1zM536 613h1v1h-1zM539 613h1v1h-1zM617 613h1v1h-1zM645 613h2v1h-2zM655 613h1v1h-1zM666 613h1v1h-1zM668 613h1v1h-1zM671 613h2v1h-2zM676 613h1v1h-1zM701 613h3v1h-3zM764 613h2v1h-2zM787 613h1v1h-1zM798 613h1v1h-1zM800 613h1v1h-1zM812 613h1v1h-1zM815 613h1v1h-1zM861 613h1v1h-1zM867 613h1v1h-1zM870 613h1v1h-1zM872 613h1v1h-1zM874 613h1v1h-1zM346 632h1v1h-1zM349 632h2v1h-2zM352 632h1v1h-1zM355 632h1v1h-1zM421 632h1v1h-1zM456 632h1v1h-1zM487 632h1v1h-1zM575 632h1v1h-1zM896 632h1v1h-1zM60 627h1v1h-1zM64 627h1v1h-1zM79 627h1v1h-1zM93 627h1v1h-1zM344 627h1v1h-1zM356 627h1v1h-1zM417 627h1v1h-1zM425 627h1v1h-1zM456 627h1v1h-1zM492 627h1v1h-1zM494 627h1v1h-1zM500 627h1v1h-1zM573 627h1v1h-1zM583 627h1v1h-1zM591 627h3v1h-3zM596 627h1v1h-1zM633 627h1v1h-1zM640 627h1v1h-1zM684 627h1v1h-1zM688 627h1v1h-1zM894 627h1v1h-1zM15 609h1v1h-1zM21 609h1v1h-1zM26 609h1v1h-1zM35 609h1v1h-1zM45 609h2v1h-2zM53 609h1v1h-1zM104 609h1v1h-1zM106 609h1v1h-1zM111 609h1v1h-1zM114 609h1v1h-1zM147 609h1v1h-1zM176 609h1v1h-1zM182 609h2v1h-2zM189 609h1v1h-1zM215 609h1v1h-1zM225 609h1v1h-1zM235 609h1v1h-1zM254 609h2v1h-2zM263 609h1v1h-1zM272 609h1v1h-1zM309 609h2v1h-2zM314 609h1v1h-1zM316 609h2v1h-2zM324 609h1v1h-1zM393 609h1v1h-1zM537 609h1v1h-1zM659 609h1v1h-1zM663 609h2v1h-2zM789 609h1v1h-1zM794 609h2v1h-2zM801 609h1v1h-1zM810 609h2v1h-2zM816 609h1v1h-1zM840 609h1v1h-1zM844 609h1v1h-1zM851 609h1v1h-1zM856 609h2v1h-2zM859 609h1v1h-1zM873 609h1v1h-1zM119 595h1v1h-1zM123 595h1v1h-1zM457 637h1v1h-1zM485 637h1v1h-1zM898 637h4v1h-4zM906 637h1v1h-1zM911 637h1v1h-1zM917 637h1v1h-1zM466 646h2v1h-2zM470 646h1v1h-1zM63 629h1v1h-1zM345 629h1v1h-1zM355 629h1v1h-1zM417 629h1v1h-1zM424 629h1v1h-1zM456 629h1v1h-1zM488 629h2v1h-2zM495 629h1v1h-1zM500 629h1v1h-1zM574 629h1v1h-1zM577 629h1v1h-1zM582 629h1v1h-1zM594 629h2v1h-2zM635 629h3v1h-3zM640 629h1v1h-1zM684 629h1v1h-1zM686 629h1v1h-1zM895 629h1v1h-1zM56 619h1v1h-1zM67 619h1v1h-1zM74 619h1v1h-1zM102 619h1v1h-1zM153 619h1v1h-1zM165 619h2v1h-2zM169 619h1v1h-1zM275 619h1v1h-1zM285 619h5v1h-5zM299 619h1v1h-1zM330 619h1v1h-1zM332 619h1v1h-1zM341 619h1v1h-1zM357 619h1v1h-1zM363 619h1v1h-1zM366 619h1v1h-1zM402 619h2v1h-2zM415 619h1v1h-1zM448 619h1v1h-1zM450 619h2v1h-2zM504 619h1v1h-1zM507 619h1v1h-1zM517 619h5v1h-5zM543 619h1v1h-1zM554 619h1v1h-1zM601 619h1v1h-1zM604 619h1v1h-1zM618 619h1v1h-1zM643 619h1v1h-1zM679 619h1v1h-1zM693 619h1v1h-1zM705 619h1v1h-1zM709 619h1v1h-1zM713 619h1v1h-1zM716 619h1v1h-1zM718 619h1v1h-1zM722 619h1v1h-1zM729 619h1v1h-1zM734 619h1v1h-1zM739 619h1v1h-1zM753 619h1v1h-1zM766 619h1v1h-1zM781 619h5v1h-5zM813 619h1v1h-1zM875 619h1v1h-1zM6 603h2v1h-2zM37 603h1v1h-1zM42 603h1v1h-1zM117 603h1v1h-1zM134 603h1v1h-1zM139 603h1v1h-1zM144 603h1v1h-1zM197 603h1v1h-1zM210 603h1v1h-1zM259 603h2v1h-2zM820 603h2v1h-2zM837 603h1v1h-1zM38 600h1v1h-1zM41 600h1v1h-1zM118 600h1v1h-1zM133 600h1v1h-1zM198 600h1v1h-1zM200 600h1v1h-1zM203 600h3v1h-3zM208 600h1v1h-1zM824 600h1v1h-1zM832 600h1v1h-1zM834 600h2v1h-2zM59 625h1v1h-1zM64 625h1v1h-1zM78 625h1v1h-1zM81 625h2v1h-2zM90 625h1v1h-1zM96 625h2v1h-2zM297 625h1v1h-1zM344 625h1v1h-1zM356 625h1v1h-1zM416 625h1v1h-1zM426 625h1v1h-1zM455 625h1v1h-1zM501 625h1v1h-1zM561 625h1v1h-1zM572 625h1v1h-1zM583 625h1v1h-1zM588 625h1v1h-1zM596 625h1v1h-1zM622 625h1v1h-1zM624 625h2v1h-2zM632 625h1v1h-1zM641 625h1v1h-1zM683 625h1v1h-1zM691 625h1v1h-1zM726 625h2v1h-2zM741 625h1v1h-1zM893 625h1v1h-1zM8 605h1v1h-1zM10 605h2v1h-2zM13 605h1v1h-1zM36 605h1v1h-1zM43 605h1v1h-1zM116 605h1v1h-1zM135 605h3v1h-3zM145 605h1v1h-1zM186 605h2v1h-2zM196 605h1v1h-1zM212 605h2v1h-2zM229 605h5v1h-5zM258 605h1v1h-1zM261 605h1v1h-1zM269 605h1v1h-1zM803 605h1v1h-1zM817 605h1v1h-1zM838 605h1v1h-1zM847 605h1v1h-1zM462 643h1v1h-1zM471 643h1v1h-1zM474 643h1v1h-1zM477 643h1v1h-1zM460 640h1v1h-1zM475 640h1v1h-1zM484 640h1v1h-1zM913 640h1v1h-1zM920 640h2v1h-2zM119 596h1v1h-1zM124 596h1v1h-1zM127 596h5v1h-5zM5 602h1v1h-1zM37 602h1v1h-1zM42 602h1v1h-1zM117 602h1v1h-1zM133 602h1v1h-1zM140 602h1v1h-1zM144 602h1v1h-1zM197 602h1v1h-1zM210 602h1v1h-1zM259 602h1v1h-1zM822 602h1v1h-1zM836 602h1v1h-1zM457 636h1v1h-1zM486 636h1v1h-1zM897 636h1v1h-1zM902 636h4v1h-4zM38 599h1v1h-1zM40 599h1v1h-1zM118 599h1v1h-1zM132 599h1v1h-1zM199 599h2v1h-2zM206 599h1v1h-1zM208 599h1v1h-1zM825 599h1v1h-1zM831 599h1v1h-1zM835 599h1v1h-1zM37 601h1v1h-1zM41 601h1v1h-1zM117 601h1v1h-1zM133 601h1v1h-1zM141 601h3v1h-3zM198 601h1v1h-1zM201 601h2v1h-2zM209 601h1v1h-1zM823 601h1v1h-1zM833 601h1v1h-1zM836 601h1v1h-1zM347 633h2v1h-2zM352 633h1v1h-1zM354 633h1v1h-1zM456 633h1v1h-1zM486 633h1v1h-1zM896 633h1v1h-1zM459 639h1v1h-1zM485 639h1v1h-1zM909 639h1v1h-1zM912 639h1v1h-1zM914 639h1v1h-1zM919 639h1v1h-1zM922 639h1v1h-1zM39 597h1v1h-1zM118 597h1v1h-1zM125 597h2v1h-2zM131 597h1v1h-1zM828 597h2v1h-2zM462 642h1v1h-1zM474 642h1v1h-1zM476 642h1v1h-1zM478 642h1v1h-1zM482 642h2v1h-2zM464 645h2v1h-2zM470 645h1v1h-1zM458 638h1v1h-1zM485 638h1v1h-1zM907 638h2v1h-2zM910 638h1v1h-1zM912 638h1v1h-1zM915 638h2v1h-2zM918 638h1v1h-1zM923 638h6v1h-6zM463 644h1v1h-1zM471 644h3v1h-3zM457 635h1v1h-1zM486 635h1v1h-1zM897 635h1v1h-1zM119 594h1v1h-1zM122 594h1v1h-1zM39 598h2v1h-2zM118 598h1v1h-1zM132 598h1v1h-1zM199 598h1v1h-1zM207 598h1v1h-1zM826 598h2v1h-2zM830 598h1v1h-1zM120 593h2v1h-2zM468 647h2v1h-2z" fill="#1e90ff"/>
<rect x="4" y="23" width="1164" height="1" fill="#000"/>
<rect x="4" y="483" width="1164" height="1" fill="#000"/>
<rect x="4" y="23" width="1" height="461" fill="#000"/>
<rect x="1167" y="23" width="1" height="461" fill="#000"/>
<rect x="4" y="485" width="1164" height="1" fill="#000"/>
<rect x="4" y="569" width="1164" height="1" fill="#000"/>
<rect x="4" y="485" width="1" height="85" fill="#000"/>
<rect x="1167" y="485" width="1" height="85" fill="#000"/>
<rect x="4" y="571" width="1164" height="1" fill="#000"/>
<rect x="4" y="658" width="1164" height="1" fill="#000"/>
<rect x="4" y="571" width="1" height="88" fill="#000"/>
<rect x="1167" y="571" width="1" height="88" fill="#000"/>
<rect x="1168" y="51" width="2" height="1" fill="#000"/>
<text x="1174" y="55" font-size="9.8" fill="#000" textLength="32" lengthAdjust="spacingAndGlyphs" stroke="#000" stroke-width="0.12">1.22590</text>
<rect x="1168" y="84" width="2" height="1" fill="#000"/>
<text x="1174" y="88" font-size="9.8" fill="#000" textLength="32" lengthAdjust="spacingAndGlyphs" stroke="#000" stroke-width="0.12">1.22160</text>
<rect x="1168" y="117" width="2" height="1" fill="#000"/>
<text x="1174" y="121" font-size="9.8" fill="#000" textLength="32" lengthAdjust="spacingAndGlyphs" stroke="#000" stroke-width="0.12">1.21730</text>
<rect x="1168" y="150" width="2" height="1" fill="#000"/>
<text x="1174" y="154" font-size="9.8" fill="#000" textLength="32" lengthAdjust="spacingAndGlyphs" stroke="#000" stroke-width="0.12">1.21300</text>
<rect x="1168" y="183" width="2" height="1" fill="#000"/>
<text x="1174" y="187" font-size="9.8" fill="#000" textLength="32" lengthAdjust="spacingAndGlyphs" stroke="#000" stroke-width="0.12">1.20870</text>
<rect x="1168" y="216" width="2" height="1" fill="#000"/>
<text x="1174" y="220" font-size="9.8" fill="#000" textLength="32" lengthAdjust="spacingAndGlyphs" stroke="#000" stroke-width="0.12">1.20430</text>
<rect x="1168" y="282" width="2" height="1" fill="#000"/>
<text x="1174" y="286" font-size="9.8" fill="#000" textLength="32" lengthAdjust="spacingAndGlyphs" stroke="#000" stroke-width="0.12">1.19570</text>
<rect x="1168" y="315" width="2" height="1" fill="#000"/>
<text x="1174" y="319" font-size="9.8" fill="#000" textLength="32" lengthAdjust="spacingAndGlyphs" stroke="#000" stroke-width="0.12">1.19140</text>
<rect x="1168" y="348" width="2" height="1" fill="#000"/>
<text x="1174" y="352" font-size="9.8" fill="#000" textLength="32" lengthAdjust="spacingAndGlyphs" stroke="#000" stroke-width="0.12">1.18710</text>
<rect x="1168" y="381" width="2" height="1" fill="#000"/>
<text x="1174" y="385" font-size="9.8" fill="#000" textLength="32" lengthAdjust="spacingAndGlyphs" stroke="#000" stroke-width="0.12">1.18280</text>
<rect x="1168" y="414" width="2" height="1" fill="#000"/>
<text x="1174" y="418" font-size="9.8" fill="#000" textLength="32" lengthAdjust="spacingAndGlyphs" stroke="#000" stroke-width="0.12">1.17840</text>
<rect x="1168" y="447" width="2" height="1" fill="#000"/>
<text x="1174" y="451" font-size="9.8" fill="#000" textLength="32" lengthAdjust="spacingAndGlyphs" stroke="#000" stroke-width="0.12">1.17410</text>
<rect x="1169" y="166" width="38" height="11" fill="#ff0000"/><text x="1174" y="175" font-size="9.8" fill="#fff" textLength="32" lengthAdjust="spacingAndGlyphs" stroke="#fff" stroke-width="0.3">1.21010</text>
<rect x="1169" y="243" width="38" height="11" fill="#ff0000"/><text x="1174" y="252" font-size="9.8" fill="#fff" textLength="32" lengthAdjust="spacingAndGlyphs" stroke="#fff" stroke-width="0.3">1.20004</text>
<rect x="1169" y="320" width="38" height="11" fill="#ff0000"/><text x="1174" y="329" font-size="9.8" fill="#fff" textLength="32" lengthAdjust="spacingAndGlyphs" stroke="#fff" stroke-width="0.3">1.18998</text>
<rect x="1169" y="394" width="38" height="11" fill="#00ff00"/><text x="1174" y="403" font-size="9.8" fill="#fff" textLength="32" lengthAdjust="spacingAndGlyphs" stroke="#fff" stroke-width="0.3">1.18024</text>
<rect x="1169" y="459" width="38" height="11" fill="#000"/><text x="1174" y="468" font-size="9.8" fill="#fff" textLength="32" lengthAdjust="spacingAndGlyphs" stroke="#fff" stroke-width="0.3">1.17194</text>
<rect x="1169" y="473" width="38" height="11" fill="#0000ff"/><text x="1174" y="482" font-size="9.8" fill="#fff" textLength="32" lengthAdjust="spacingAndGlyphs" stroke="#fff" stroke-width="0.3">1.17002</text>
<rect x="1168" y="480" width="2" height="1" fill="#000"/>
<rect x="1168" y="487" width="2" height="1" fill="#000"/>
<rect x="1168" y="515" width="2" height="1" fill="#000"/>
<rect x="1168" y="568" width="2" height="1" fill="#000"/>
<text x="1171" y="496" font-size="9.8" fill="#000" textLength="37" lengthAdjust="spacingAndGlyphs" stroke="#000" stroke-width="0.12">0.003873</text>
<text x="1171" y="519" font-size="9.8" fill="#000" textLength="17" lengthAdjust="spacingAndGlyphs" stroke="#000" stroke-width="0.12">0.00</text>
<text x="1171" y="566" font-size="9.8" fill="#000" textLength="36" lengthAdjust="spacingAndGlyphs" stroke="#000" stroke-width="0.12">-0.00719</text>
<rect x="1168" y="573" width="2" height="1" fill="#000"/>
<rect x="1168" y="657" width="2" height="1" fill="#000"/>
<text x="1171" y="582" font-size="9.8" fill="#000" textLength="14" lengthAdjust="spacingAndGlyphs" stroke="#000" stroke-width="0.12">100</text>
<text x="1170" y="602" font-size="9.8" fill="#000" textLength="9" lengthAdjust="spacingAndGlyphs" stroke="#000" stroke-width="0.12">70</text>
<text x="1170" y="636" font-size="9.8" fill="#000" textLength="9" lengthAdjust="spacingAndGlyphs" stroke="#000" stroke-width="0.12">30</text>
<text x="1171" y="655" font-size="9.8" fill="#000" textLength="4" lengthAdjust="spacingAndGlyphs" stroke="#000" stroke-width="0.12">0</text>
<text x="9" y="498" font-size="9.8" fill="#000" textLength="153" lengthAdjust="spacingAndGlyphs" stroke="#000" stroke-width="0.12">MACD(12,26,9) -0.002965 -0.003071</text>
<text x="9" y="584" font-size="9.8" fill="#000" textLength="67" lengthAdjust="spacingAndGlyphs" stroke="#000" stroke-width="0.12">RSI(14) 24.3479</text>
<path d="M8 34.5L11.5 30.5L15 34.5z" fill="#000"/>
<text x="21" y="35" font-size="9.8" fill="#000" textLength="53" lengthAdjust="spacingAndGlyphs" stroke="#000" stroke-width="0.12">EURUSD,H4</text>
<text x="80" y="35" font-size="9.8" fill="#000" textLength="141" lengthAdjust="spacingAndGlyphs" stroke="#000" stroke-width="0.12">1.17192 1.17201 1.17191 1.17194</text>
<rect x="5" y="659" width="1" height="3" fill="#000"/>
<text x="4" y="671" font-size="9.8" fill="#000" textLength="51" lengthAdjust="spacingAndGlyphs" stroke="#000" stroke-width="0.12">26 Apr 2021</text>
<rect x="69" y="659" width="1" height="3" fill="#000"/>
<text x="68" y="671" font-size="9.8" fill="#000" textLength="52" lengthAdjust="spacingAndGlyphs" stroke="#000" stroke-width="0.12">3 May 19:00</text>
<rect x="133" y="659" width="1" height="3" fill="#000"/>
<text x="132" y="671" font-size="9.8" fill="#000" textLength="57" lengthAdjust="spacingAndGlyphs" stroke="#000" stroke-width="0.12">11 May 00:00</text>
<rect x="197" y="659" width="1" height="3" fill="#000"/>
<text x="196" y="671" font-size="9.8" fill="#000" textLength="57" lengthAdjust="spacingAndGlyphs" stroke="#000" stroke-width="0.12">18 May 10:00</text>
<rect x="261" y="659" width="1" height="3" fill="#000"/>
<text x="260" y="671" font-size="9.8" fill="#000" textLength="57" lengthAdjust="spacingAndGlyphs" stroke="#000" stroke-width="0.12">25 May 18:00</text>
<rect x="325" y="659" width="1" height="3" fill="#000"/>
<text x="324" y="671" font-size="9.8" fill="#000" textLength="47.5" lengthAdjust="spacingAndGlyphs" stroke="#000" stroke-width="0.12">2 Jun 00:00</text>
<rect x="389" y="659" width="1" height="3" fill="#000"/>
<text x="388" y="671" font-size="9.8" fill="#000" textLength="47.5" lengthAdjust="spacingAndGlyphs" stroke="#000" stroke-width="0.12">9 Jun 10:00</text>
<rect x="453" y="659" width="1" height="3" fill="#000"/>
<text x="452" y="671" font-size="9.8" fill="#000" textLength="52.5" lengthAdjust="spacingAndGlyphs" stroke="#000" stroke-width="0.12">16 Jun 18:00</text>
<rect x="517" y="659" width="1" height="3" fill="#000"/>
<text x="516" y="671" font-size="9.8" fill="#000" textLength="52.5" lengthAdjust="spacingAndGlyphs" stroke="#000" stroke-width="0.12">24 Jun 00:00</text>
<rect x="581" y="659" width="1" height="3" fill="#000"/>
<text x="580" y="671" font-size="9.8" fill="#000" textLength="44.5" lengthAdjust="spacingAndGlyphs" stroke="#000" stroke-width="0.12">1 Jul 10:00</text>
<rect x="645" y="659" width="1" height="3" fill="#000"/>
<text x="644" y="671" font-size="9.8" fill="#000" textLength="44.5" lengthAdjust="spacingAndGlyphs" stroke="#000" stroke-width="0.12">8 Jul 18:00</text>
<rect x="709" y="659" width="1" height="3" fill="#000"/>
<text x="708" y="671" font-size="9.8" fill="#000" textLength="49.5" lengthAdjust="spacingAndGlyphs" stroke="#000" stroke-width="0.12">16 Jul 00:00</text>
<rect x="773" y="659" width="1" height="3" fill="#000"/>
<text x="772" y="671" font-size="9.8" fill="#000" textLength="49.5" lengthAdjust="spacingAndGlyphs" stroke="#000" stroke-width="0.12">23 Jul 10:00</text>
<rect x="837" y="659" width="1" height="3" fill="#000"/>
<text x="836" y="671" font-size="9.8" fill="#000" textLength="49.5" lengthAdjust="spacingAndGlyphs" stroke="#000" stroke-width="0.12">30 Jul 18:00</text>
<rect x="901" y="659" width="1" height="3" fill="#000"/>
<text x="900" y="671" font-size="9.8" fill="#000" textLength="51" lengthAdjust="spacingAndGlyphs" stroke="#000" stroke-width="0.12">7 Aug 00:00</text>
<text x="18.6" y="696" font-size="12" fill="#000" textLength="67" lengthAdjust="spacingAndGlyphs" stroke="#000" stroke-width="0.12">EURUSD,H4</text>
<text x="109.3" y="696" font-size="12" fill="#6e6e6e" textLength="81.5" lengthAdjust="spacingAndGlyphs" stroke="#6e6e6e" stroke-width="0.12">AUDUSD,Daily</text>
<text x="212.3" y="696" font-size="12" fill="#6e6e6e" textLength="66.2" lengthAdjust="spacingAndGlyphs" stroke="#6e6e6e" stroke-width="0.12">USDCHF,H4</text>
<text x="301.2" y="696" font-size="12" fill="#6e6e6e" textLength="80.9" lengthAdjust="spacingAndGlyphs" stroke="#6e6e6e" stroke-width="0.12">USDCAD,Daily</text>
<text x="404.6" y="696" font-size="12" fill="#6e6e6e" textLength="82.2" lengthAdjust="spacingAndGlyphs" stroke="#6e6e6e" stroke-width="0.12">USDCNH,Daily</text>
<text x="510.6" y="696" font-size="12" fill="#6e6e6e" textLength="50.4" lengthAdjust="spacingAndGlyphs" stroke="#6e6e6e" stroke-width="0.12">UKOil,H1</text>
<text x="584.5" y="696" font-size="12" fill="#6e6e6e" textLength="46.2" lengthAdjust="spacingAndGlyphs" stroke="#6e6e6e" stroke-width="0.12">DJ30,H1</text>
<text x="654.5" y="696" font-size="12" fill="#6e6e6e" textLength="50.7" lengthAdjust="spacingAndGlyphs" stroke="#6e6e6e" stroke-width="0.12">USDX,H1</text>
<text x="729.1" y="696" font-size="12" fill="#6e6e6e" textLength="68.6" lengthAdjust="spacingAndGlyphs" stroke="#6e6e6e" stroke-width="0.12">XAUUSD,H1</text>
<text x="822.5" y="696" font-size="12" fill="#6e6e6e" textLength="67.1" lengthAdjust="spacingAndGlyphs" stroke="#6e6e6e" stroke-width="0.12">GBPUSD,H1</text>
<rect x="202" y="684" width="1" height="14" fill="#505050"/>
<rect x="290" y="684" width="1" height="14" fill="#505050"/>
<rect x="394" y="684" width="1" height="14" fill="#505050"/>
<rect x="498" y="684" width="1" height="14" fill="#505050"/>
<rect x="574" y="684" width="1" height="14" fill="#505050"/>
<rect x="642" y="684" width="1" height="14" fill="#505050"/>
<rect x="718" y="684" width="1" height="14" fill="#505050"/>
<rect x="810" y="684" width="1" height="14" fill="#505050"/>
<rect x="902" y="684" width="1" height="14" fill="#505050"/>
<path d="M1183 690L1186 686.5V693.5z" fill="#9a9a9a"/>
<path d="M1205 690L1202 686.5V693.5z" fill="#9a9a9a"/>
</svg>
<svg width="200" height="18" viewBox="0 0 200 18" style="opacity:0.999;will-change:transform">
<text x="-3" y="11" font-size="9.8" fill="#404040" textLength="9" lengthAdjust="spacingAndGlyphs">15</text>
<text x="16.6" y="11" font-size="9.8" fill="#404040" textLength="17.5" lengthAdjust="spacingAndGlyphs">M30</text>
<text x="47.8" y="11" font-size="9.8" fill="#404040" textLength="11.2" lengthAdjust="spacingAndGlyphs">H1</text>
<text x="74.8" y="11" font-size="9.8" fill="#404040" textLength="12.2" lengthAdjust="spacingAndGlyphs">H4</text>
<text x="103.8" y="11" font-size="9.8" fill="#404040" textLength="11.2" lengthAdjust="spacingAndGlyphs">D1</text>
<text x="131" y="11" font-size="9.8" fill="#404040" textLength="14.2" lengthAdjust="spacingAndGlyphs">W1</text>
<text x="157.6" y="11" font-size="9.8" fill="#404040" textLength="14.6" lengthAdjust="spacingAndGlyphs">MN</text>
</svg>
<!-- one click trading panel -->
<div class="abs" style="left:6px;top:41px;width:223px;height:61px;background:#fff"></div>
<div class="panel" style="left:8px;top:67px;width:109px;height:33px;box-sizing:border-box;border:1px solid #0000b2;background:linear-gradient(#3232e2,#0000a6)"></div>
<div class="panel" style="left:119px;top:67px;width:108px;height:33px;box-sizing:border-box;border:1px solid #0000b2;background:linear-gradient(#3232e2,#0000a6)"></div>
<div class="panel" style="left:8px;top:43px;width:52px;height:25px;box-sizing:border-box;border:1px solid #0000b2;border-bottom:none;background:linear-gradient(#5a5aff,#3a36e6)"></div>
<div class="panel" style="left:175px;top:43px;width:52px;height:25px;box-sizing:border-box;border:1px solid #0000b2;border-bottom:none;background:linear-gradient(#5a5aff,#3a36e6)"></div>
<div class="abs" style="left:12px;top:67px;width:44px;height:1px;background:#8a8af4"></div>
<div class="abs" style="left:179px;top:67px;width:44px;height:1px;background:#8a8af4"></div>
<!-- spinner -->
<div class="abs" style="left:62px;top:43px;width:109px;height:20px;background:#fff;border:1px solid #ababab;"></div>
<div class="abs" style="left:63px;top:44px;width:20px;height:20px;background:linear-gradient(#f3f3f3,#ebebeb 45%,#dcdcdc 55%,#d0d0d0);border-right:1px solid #ababab"></div>
<div class="abs" style="left:152px;top:44px;width:19px;height:20px;background:linear-gradient(#f3f3f3,#ebebeb 45%,#dcdcdc 55%,#d0d0d0);border-left:1px solid #ababab"></div>
<svg width="1207" height="706" viewBox="0 0 1207 706">
<path d="M70 52h6l-3 3.5z" fill="#4a5fb0"/>
<path d="M159 55.5h6l-3-3.5z" fill="#4a5fb0"/>
<g font-family='"Liberation Sans", sans-serif' fill="#fff">
<text x="20.4" y="59" font-size="12" textLength="26" lengthAdjust="spacingAndGlyphs">SELL</text>
<text x="188.6" y="59" font-size="12" textLength="23.3" lengthAdjust="spacingAndGlyphs">BUY</text>
<text x="124.4" y="57.5" font-size="11.5" fill="#000" textLength="23" lengthAdjust="spacingAndGlyphs">3.00</text>
<text x="28.6" y="95" font-size="12" font-weight="bold" textLength="23.6" lengthAdjust="spacingAndGlyphs">1.17</text>
<text x="138.5" y="95" font-size="12" font-weight="bold" textLength="23.2" lengthAdjust="spacingAndGlyphs">1.17</text>
<text x="55.5" y="95.2" font-size="34.8" textLength="35.8" lengthAdjust="spacingAndGlyphs">19</text>
<text x="166" y="95.2" font-size="34.8" textLength="36.5" lengthAdjust="spacingAndGlyphs">20</text>
<text x="95" y="79" font-size="12" font-weight="bold" textLength="7" lengthAdjust="spacingAndGlyphs">7</text>
<text x="206" y="79" font-size="12" font-weight="bold" textLength="7" lengthAdjust="spacingAndGlyphs">6</text>
</g>
</svg>
</body></html>
